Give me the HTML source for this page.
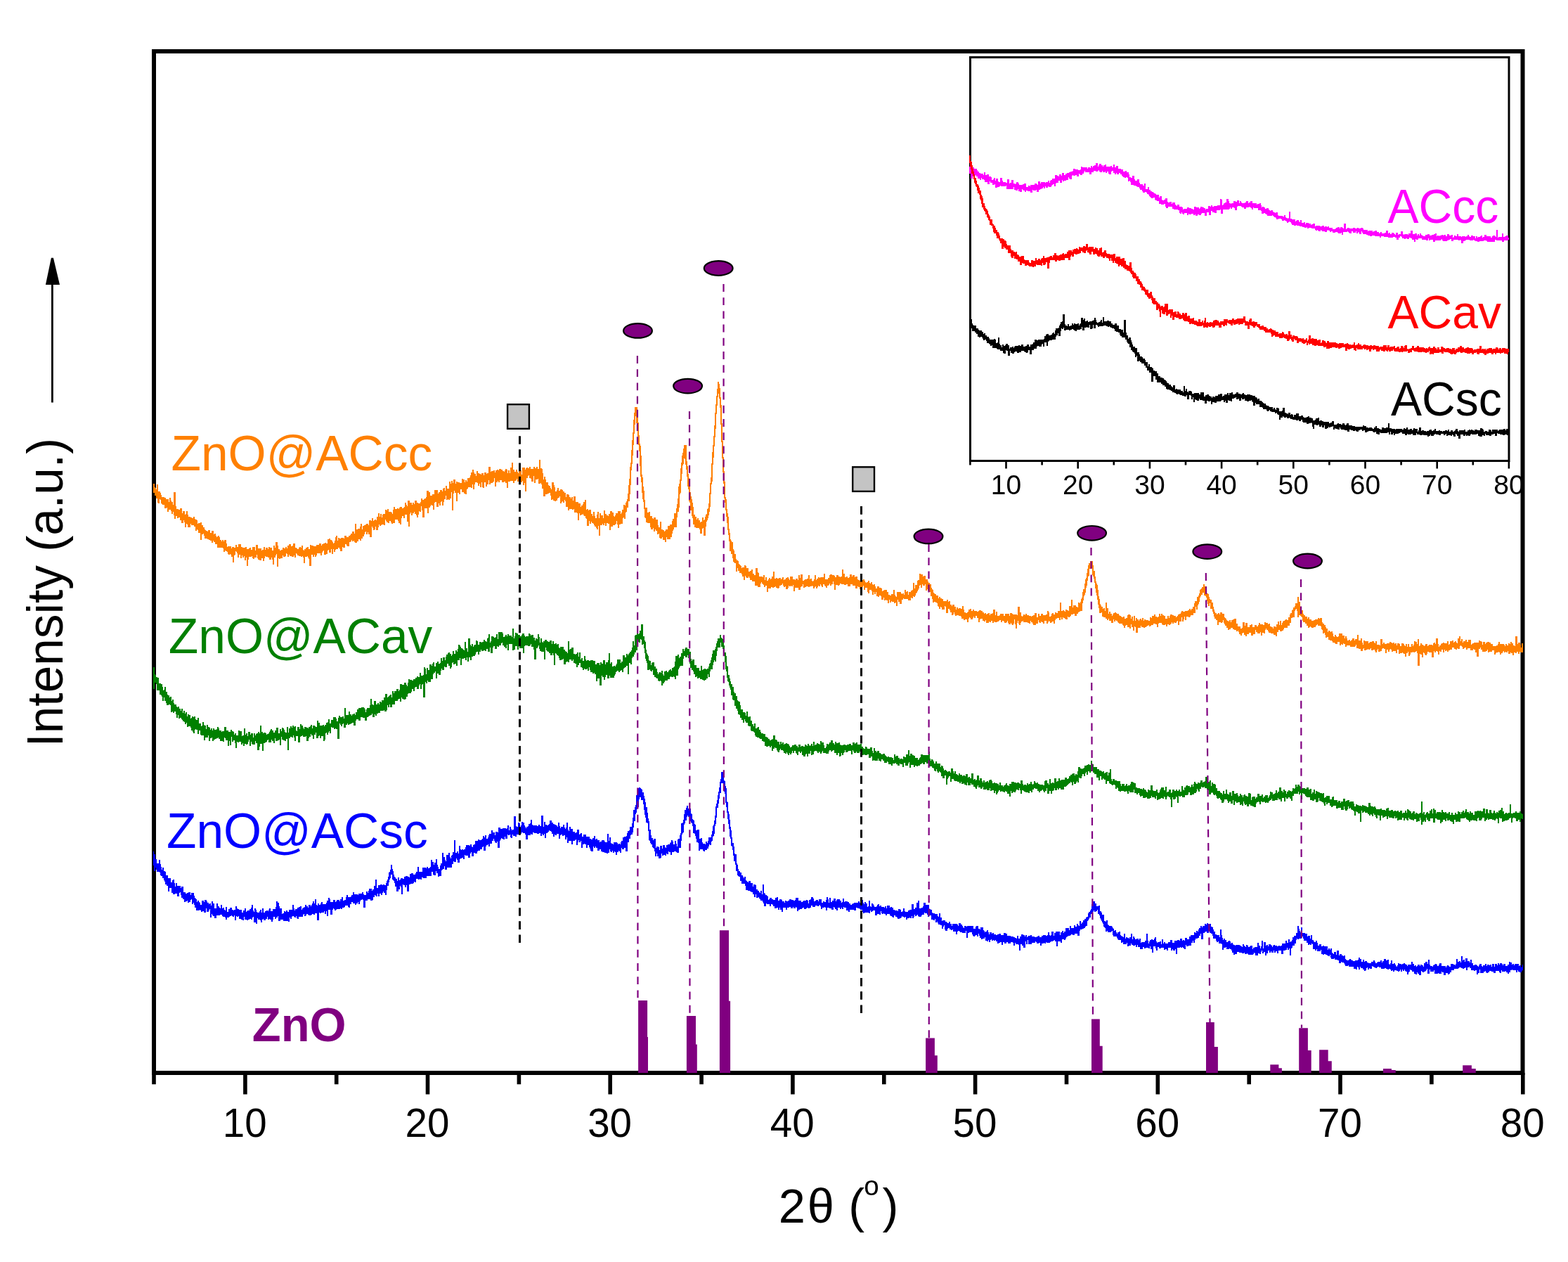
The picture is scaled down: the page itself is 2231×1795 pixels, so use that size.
<!DOCTYPE html><html><head><meta charset="utf-8"><title>XRD ZnO@AC</title><style>html,body{margin:0;padding:0;background:#fff;width:2231px;height:1795px;overflow:hidden}svg{display:block}text{font-family:'Liberation Sans', Arial, sans-serif}</style></head><body>
<svg width="2231" height="1795" viewBox="0 0 2231 1795">
<rect width="2231" height="1795" fill="#fff"/>
<rect x="219" y="73" width="1947.5" height="1453" fill="none" stroke="#000" stroke-width="6"/>
<path d="M219.0 1526V1542.3M348.9 1526V1556.5M478.7 1526V1542.3M608.5 1526V1556.5M738.4 1526V1542.3M868.2 1526V1556.5M998.1 1526V1542.3M1127.9 1526V1556.5M1257.8 1526V1542.3M1387.6 1526V1556.5M1517.5 1526V1542.3M1647.3 1526V1556.5M1777.2 1526V1542.3M1907.0 1526V1556.5M2036.9 1526V1542.3M2166.8 1526V1556.5" stroke="#000" stroke-width="5.6" fill="none"/>
<path d="M218 688h2v5h1v1h1v2h1v-7h2v10h3v2h1v3h1v3h4v1h2v2h4v4h1v-6h2v4h1v2h2v4h1v-18h3v20h1v4h3v1h2v-2h3v7h1v-3h3v5h1v-1h1v-4h2v5h1v3h3v1h2v1h2v-2h2v3h1v1h2v1h1v5h1v-1h3v-1h2v4h2v3h2v3h1v1h1v1h2v1h1v-2h3v4h2v-3h3v5h1v-1h2v3h1v2h1v-1h1v-1h2v2h1v4h2v2h1v-2h2v2h1v-2h3v5h1v5h1v-1h5v3h1v-2h3v1h2v-4h2v3h2v-4h4v4h2v1h4v-1h2v3h3v-1h1v-1h2v3h2v-4h4v5h1v-8h3v5h5v3h1v-1h2v-4h2v4h1v-3h3v2h1v-3h2v1h3v4h2v-7h2v3h1v-8h3v5h1v5h2v2h2v-1h2v-3h2v1h2v-2h2v2h1v-4h2v-2h3v3h2v-1h1v-3h3v6h2v1h1v1h2v-2h1v-1h2v1h1v-3h2v6h1v1h1v-2h2v-2h2v-1h2v3h2v-6h2v1h3v1h4v-2h4v-2h3v3h1v-2h2v-1h2v-1h2v1h2v-6h2v-1h2v2h2v1h1v2h1v2h1v-1h1v-3h1v-5h1v-2h2v7h1v-4h2v1h2v-1h4v1h1v-4h3v2h3v-2h2v-1h1v-2h2v-3h3v3h1v-14h2v8h2v-1h3v-3h1v-4h2v8h1v-5h2v-1h2v-1h1v-1h3v2h1v-7h3v1h1v-4h2v4h1v-1h1v-1h2v1h1v-5h2v-5h2v5h1v-4h2v5h1v-4h1v-1h3v-6h2v1h1v-2h2v4h4v1h1v2h1v-6h1v-4h2v3h3v-1h2v1h1v-2h1v-1h3v2h2v-1h1v-1h1v-6h2v3h1v2h1v-8h3v3h3v3h1v-3h2v2h1v-5h3v3h2v1h3v-2h1v-5h2v2h2v-1h1v-1h2v-2h1v-9h3v2h2v5h3v-2h3v-6h5v5h1v-2h2v-3h3v2h1v-4h1v-1h2v4h1v-7h2v4h3v-10h2v3h1v-4h2v3h1v-5h3v6h1v-3h2v1h3v1h3v-6h2v1h2v4h1v-3h2v2h1v-5h3v-1h1v-3h1v-4h2v-4h2v4h1v2h2v3h1v-7h2v3h2v1h2v1h1v-2h3v3h1v-4h3v2h1v-1h2v-9h3v7h1v-1h3v-1h2v3h1v-3h2v-1h2v1h1v-2h3v1h2v2h2v1h1v-2h1v-2h2v1h1v5h1v-4h2v4h1v-8h2v-7h2v10h2v3h2v-3h2v3h1v2h1v-5h2v1h2v6h1v-10h4v3h1v-2h1v-1h2v1h2v-2h2v3h4v-3h2v2h2v-2h2v3h2v-13h2v12h2v1h1v6h1v9h1v-4h2v4h1v4h3v4h1v1h2v3h1v2h1v-10h3v4h1v3h1v6h2v-2h1v-3h2v4h2v-2h3v1h1v2h2v2h2v6h1v-4h3v1h1v3h2v2h1v-2h2v5h1v-6h3v8h4v2h3v5h1v-2h2v-2h1v-3h2v-3h2v14h1v-1h2v2h1v-1h3v6h2v3h1v-6h2v6h1v3h2v-5h1v-4h2v9h1v-7h2v3h3v4h1v-11h2v5h2v2h2v1h1v-3h2v-4h3v2h2v5h1v1h1v-2h1v-3h3v-3h4v4h1v-2h1v-4h2v-7h2v1h1v-4h1v-2h1v-3h1v-8h1v-12h1v-9h1v-17h1v-6h1v-18h1v-14h1v-11h1v-18h1v-10h1v-8h4v12h1v10h1v18h1v12h1v3h1v14h1v27h1v4h1v13h1v6h1v13h1v11h3v7h2v-1h2v6h3v3h1v1h1v-2h3v3h3v8h1v3h2v-8h2v11h2v1h2v2h1v-1h1v-2h3v-5h3v-2h3v-5h1v-3h2v-8h3v-7h1v-6h1v-8h1v-17h1v-4h1v-6h1v-16h1v-8h1v-10h1v-4h1v-6h1v-5h4v23h1v7h1v11h1v6h1v10h1v10h1v6h1v4h1v5h1v6h1v11h2v3h2v4h1v-2h2v3h2v3h1v-1h2v-6h2v4h1v-1h1v-4h1v-3h1v-1h1v-7h1v-1h1v-7h1v-15h1v-14h1v-8h1v-20h1v-16h1v-10h1v-13h1v-15h1v-18h1v-12h1v-12h1v-10h1v-10h2v3h1v6h1v13h1v11h1v26h1v25h1v23h1v20h1v15h1v22h1v3h1v14h1v6h1v5h1v17h1v6h1v9h1v2h1v2h2v10h1v2h1v5h2v7h1v2h2v1h1v4h1v1h1v1h1v1h1v3h1v-1h3v-3h2v1h1v3h3v5h2v-1h2v-2h2v6h2v2h2v-10h3v6h1v1h1v5h5v1h1v-3h2v7h1v-4h2v5h2v-2h1v-2h2v2h1v-1h1v-3h2v-7h2v10h2v-1h2v1h2v-1h3v2h1v-1h1v-2h2v4h1v-1h2v-2h2v-1h2v2h1v2h1v-5h4v4h3v1h1v-2h3v2h1v-7h2v4h1v-5h3v9h2v-1h1v-1h3v-1h2v-5h2v6h1v-1h2v3h1v1h1v-1h1v-2h1v-6h2v7h1v-2h2v-2h2v1h1v-1h5v-5h2v8h4v-2h2v-4h1v-1h3v1h3v1h1v2h2v-3h3v2h2v1h1v-1h2v-10h2v6h2v5h2v-1h2v2h2v-1h1v-4h3v3h1v-2h3v3h1v-1h3v4h1v1h2v1h1v-2h3v1h1v-1h2v2h1v2h1v1h1v-1h2v-2h2v3h1v1h1v-2h2v3h1v1h1v-1h2v3h1v3h2v-3h3v2h3v1h1v4h1v-1h2v-1h4v3h2v4h2v1h2v-2h3v-6h2v7h1v2h1v1h1v-7h6v2h1v1h1v-1h2v2h1v-7h2v3h1v-1h2v5h1v-4h3v-2h2v-1h1v-10h2v8h1v-5h3v-6h1v-1h2v-9h2v1h3v3h1v-1h3v5h3v3h1v2h2v2h2v5h1v2h1v1h1v4h1v1h1v1h2v2h3v4h1v-2h2v2h2v1h2v3h5v-2h2v3h1v-1h2v5h2v2h1v-2h3v3h2v4h1v-3h2v2h1v-1h3v1h2v-4h2v5h1v4h2v1h2v-1h1v-1h1v-3h2v-1h2v3h2v-2h2v2h4v1h2v-1h1v-1h3v1h2v2h2v2h1v-1h2v2h1v-1h2v-1h2v3h1v-2h3v-1h1v-5h3v8h1v-5h2v6h3v-1h1v-2h5v3h2v-3h6v3h1v-4h3v1h1v1h6v1h1v-12h3v8h2v5h1v1h1v-1h1v-2h2v1h1v-2h2v2h3v1h3v1h1v-1h2v-1h2v-3h3v6h2v-5h2v3h2v-3h3v2h4v-1h2v-5h2v2h1v6h2v-1h1v-3h1v-1h2v2h2v-3h2v1h2v-3h3v-12h2v12h2v-1h2v1h1v1h1v-3h2v1h2v1h1v-7h3v-9h2v11h1v-3h4v2h2v1h1v-7h2v1h1v-2h1v-4h1v-2h1v-8h1v-4h2v-8h1v-6h1v-2h1v-7h1v-6h1v-5h1v-3h2v-3h4v6h1v8h2v8h1v7h1v3h1v2h1v7h1v9h1v4h1v7h1v2h1v2h2v3h1v-1h2v4h1v-12h2v8h2v8h1v-3h2v3h2v3h1v-2h1v-2h2v-1h2v1h1v1h3v2h1v1h2v1h1v1h2v-1h2v3h2v-1h2v-4h1v-1h3v1h1v5h1v-3h2v6h1v-7h2v7h1v-4h2v2h2v2h1v-2h1v-1h2v2h1v-3h2v4h1v-2h2v1h4v1h2v-5h2v1h1v-3h3v-2h2v3h2v1h2v-1h1v-4h2v3h1v-3h2v2h2v1h2v4h3v-4h2v3h1v-3h1v-2h3v1h2v1h3v2h1v-1h1v-1h1v-2h2v-1h2v-2h1v-2h2v1h3v-1h4v-1h2v-2h2v2h1v-2h2v-3h2v-5h1v-3h3v-6h2v-2h1v-3h1v-5h1v-1h1v-1h1v-2h2v-4h2v3h3v10h2v1h1v4h1v3h1v1h2v4h2v6h1v4h1v3h1v2h2v2h1v-1h1v-1h2v2h1v-3h3v2h3v5h1v1h1v1h1v2h1v1h2v1h1v-2h2v3h1v-3h2v-1h2v-1h3v7h2v4h4v3h2v-1h1v-8h3v5h1v-4h3v6h3v-3h2v-1h2v4h3v-3h3v2h2v-2h1v-3h2v2h4v1h2v-4h2v1h3v2h1v-1h2v4h2v1h2v2h1v-3h3v1h1v-4h2v-4h2v5h1v-6h2v6h1v-3h1v-2h1v-1h2v-1h1v-1h2v1h2v-4h2v-4h1v-2h2v-4h1v-1h1v-3h2v-2h1v-4h3v-9h2v7h2v9h1v5h1v-2h2v5h1v2h2v2h3v3h1v-2h2v3h3v2h3v-1h2v-1h4v-2h2v1h1v-1h3v6h1v2h2v2h2v3h1v2h2v5h1v-2h2v1h1v1h1v-1h2v3h1v4h1v1h1v-3h2v2h1v1h2v-1h1v-4h5v3h3v4h1v-3h2v3h1v3h2v-1h2v2h1v-1h1v-1h1v-2h3v3h1v-2h3v-6h2v8h3v-3h2v6h1v3h1v-6h2v1h5v3h1v-1h1v-1h3v-1h3v2h1v1h1v-3h2v5h4v1h1v-9h3v7h1v-2h2v2h3v-1h4v-2h2v1h2v1h1v-1h2v2h1v-1h2v3h1v-3h3v1h1v3h2v-4h3v1h1v2h1v1h1v-3h2v4h1v-4h2v4h3v-4h2v3h1v-2h1v-5h2v1h2v3h1v-7h2v10h1v-1h1v-3h2v2h2v1h1v1h1v-1h1v-2h3v3h1v-1h1v-1h5v1h1v-3h1v-1h2v2h1v-8h3v8h1v4h1v-2h2v-2h1v-1h2v-1h2v1h4v-3h2v5h1v-1h1v-4h3v-1h2v3h1v-1h1v-1h2v2h1v1h1v-7h2v-3h2v7h1v-3h2v5h1v-2h3v-2h2v3h2v-3h4v7h1v-1h1v-1h2v-1h7v-3h2v1h2v1h1v4h1v-4h3v3h1v-2h2v-1h3v1h2v2h3v3h5v-1h2v-2h1v-3h2v3h6v1h1v2h1v-3h2v2h2v-3h2v1h1v-3h2v2h2v3h2v1h1v-14h3v11h1v-2h3v3h1v4h1v-6h2v13h-4v-1h-1v3h-2v-3h-2v2h-2v-1h-2v4h-2v-3h-2v-1h-1v2h-3v-4h-1v2h-2v-1h-1v1h-2v-2h-1v1h-1v2h-2v2h-2v-3h-1v-1h-1v1h-3v1h-1v2h-2v-6h-3v2h-4v1h-2v-4h-1v2h-2v1h-5v-3h-2v-3h-1v2h-2v11h-3v-6h-2v-4h-2v-1h-1v2h-4v-3h-4v2h-2v-3h-2v1h-1v1h-2v-3h-1v-1h-1v-1h-1v1h-1v4h-3v-1h-1v2h-2v-1h-2v-2h-3v3h-3v1h-2v2h-2v-2h-1v1h-2v-2h-1v4h-2v-4h-2v3h-2v-1h-1v5h-2v-4h-1v-1h-2v2h-2v-2h-1v9h-3v-7h-4v-1h-2v3h-1v2h-2v-1h-1v-2h-1v-1h-1v7h-2v-4h-2v-1h-1v17h-3v-18h-1v-3h-1v1h-2v1h-2v-1h-1v1h-3v3h-1v2h-2v-6h-1v2h-2v5h-2v-4h-2v-1h-1v-1h-1v1h-3v1h-2v-6h-2v5h-2v-3h-4v1h-2v-3h-1v-1h-1v1h-1v3h-2v-3h-2v5h-2v-6h-2v-1h-2v1h-1v3h-2v1h-3v-4h-1v2h-1v3h-2v-2h-1v-2h-2v1h-3v-3h-1v1h-1v1h-2v-1h-1v1h-2v1h-3v-3h-1v1h-1v3h-3v-3h-3v-1h-3v-5h-1v2h-1v1h-7v-2h-5v2h-2v-4h-2v-1h-1v2h-2v-1h-1v2h-2v-5h-3v3h-3v-1h-1v-1h-3v-2h-1v-1h-3v-1h-2v-4h-2v1h-2v-4h-1v-3h-1v1h-2v-5h-1v-1h-1v-4h-1v-1h-4v-2h-1v1h-1v1h-1v2h-3v1h-3v-1h-1v-1h-1v1h-1v1h-2v-3h-2v-3h-2v-2h-3v-2h-1v-5h-1v-1h-1v-1h-1v-1h-2v3h-2v-9h-1v-3h-1v1h-1v2h-1v9h-3v1h-2v7h-2v4h-3v3h-5v2h-1v2h-2v1h-3v-2h-2v3h-2v6h-2v-2h-3v-2h-4v-1h-3v-2h-1v-2h-2v-2h-1v2h-1v5h-2v-1h-2v4h-2v-5h-1v2h-4v-2h-2v-3h-1v6h-3v2h-3v-4h-3v2h-3v3h-2v-2h-2v-3h-2v1h-1v3h-2v-2h-2v-3h-1v-2h-1v1h-2v-2h-3v-1h-2v-2h-3v2h-2v1h-2v-3h-2v-3h-2v-2h-1v-2h-1v-4h-1v3h-1v1h-2v-1h-3v4h-2v-7h-2v-2h-2v-3h-1v-4h-1v-3h-1v-4h-3v-8h-1v4h-2v-3h-1v-4h-1v-5h-1v-2h-1v-1h-2v-4h-2v3h-2v2h-1v2h-1v6h-1v3h-1v2h-1v6h-2v-4h-1v9h-3v3h-4v2h-1v1h-2v-1h-3v5h-2v-5h-1v4h-1v3h-2v-6h-1v6h-3v5h-2v-6h-1v1h-1v2h-3v-1h-1v2h-2v-2h-1v2h-1v1h-1v1h-2v-1h-2v3h-2v-3h-1v1h-4v-1h-1v-2h-4v1h-1v5h-2v-4h-2v-1h-3v2h-3v1h-1v1h-2v-2h-1v1h-2v1h-1v1h-2v1h-2v-1h-3v-2h-1v3h-4v7h-3v-8h-1v-1h-1v6h-2v-5h-2v-4h-1v6h-2v-2h-3v-3h-2v1h-1v3h-2v-3h-1v-1h-1v-2h-5v-1h-1v-1h-1v-2h-2v-1h-1v2h-2v-3h-1v5h-3v-3h-3v-3h-1v2h-2v-2h-2v-2h-3v-1h-2v-6h-1v1h-3v-7h-1v-5h-1v-7h-1v-6h-1v-4h-1v-6h-1v-8h-1v-6h-1v-3h-1v-2h-1v-10h-1v-1h-1v2h-2v10h-1v1h-1v6h-1v7h-1v3h-1v7h-1v3h-1v2h-1v6h-1v4h-1v11h-3v1h-2v1h-1v2h-2v3h-3v-3h-2v1h-3v2h-1v1h-1v1h-2v-1h-1v4h-3v-1h-1v-1h-2v-1h-1v3h-2v-3h-1v4h-2v-3h-3v1h-2v2h-1v5h-2v-3h-2v1h-1v1h-2v-2h-1v-1h-1v2h-1v2h-2v-4h-3v4h-2v-2h-2v-1h-1v2h-2v-1h-1v-3h-1v5h-3v2h-4v-2h-1v-2h-2v-2h-1v4h-2v-1h-2v-1h-6v-2h-1v1h-2v2h-1v3h-2v-2h-1v-4h-1v3h-1v8h-2v-6h-1v-7h-1v6h-1v2h-2v-1h-1v-2h-1v2h-3v-2h-1v-3h-1v2h-1v1h-3v-2h-1v-1h-2v2h-2v-3h-2v1h-1v1h-2v1h-4v-1h-1v2h-2v-3h-2v2h-2v-1h-1v2h-4v-4h-1v2h-2v-1h-2v-3h-3v1h-1v4h-2v-6h-2v-3h-2v3h-2v-2h-1v2h-1v2h-3v-2h-1v-1h-1v2h-1v5h-2v-4h-3v1h-2v-2h-3v-3h-1v-1h-3v-1h-3v1h-2v-2h-1v-3h-1v3h-1v1h-2v-4h-2v-3h-1v-2h-2v6h-3v-9h-1v-1h-1v5h-4v-3h-1v-1h-1v3h-2v-3h-1v-1h-1v-4h-1v-1h-2v-1h-2v1h-2v-5h-1v-4h-2v-6h-2v-2h-2v-2h-1v2h-2v-9h-1v2h-3v-2h-1v5h-2v-4h-1v1h-1v4h-1v2h-1v2h-1v2h-1v1h-1v3h-1v2h-2v-1h-1v3h-2v-1h-1v4h-4v-2h-6v-1h-1v2h-2v6h-3v-3h-2v-3h-1v9h-2v-5h-1v1h-2v-2h-3v-1h-1v2h-2v-4h-1v5h-2v-4h-2v-1h-1v1h-2v-4h-1v3h-3v-5h-1v-1h-2v2h-2v-1h-2v-6h-1v3h-2v-3h-1v4h-2v-5h-1v-2h-3v5h-2v-2h-1v-6h-3v3h-2v-6h-1v2h-2v1h-1v2h-2v-3h-2v-1h-1v3h-3v-4h-4v-2h-3v3h-4v-3h-2v1h-3v-1h-4v-1h-2v2h-1v1h-2v-1h-3v7h-2v-8h-1v-4h-1v4h-2v2h-2v-3h-1v2h-1v1h-2v3h-2v-2h-1v-1h-1v-2h-2v4h-2v-2h-1v-2h-1v3h-2v-1h-1v2h-1v2h-2v-3h-1v1h-1v2h-2v-3h-1v-1h-1v1h-3v1h-2v-1h-3v1h-2v1h-2v-5h-1v3h-2v1h-1v4h-3v-3h-5v5h-2v-9h-1v2h-2v-1h-1v1h-2v-1h-1v3h-1v2h-3v-4h-1v1h-2v-2h-1v-3h-1v2h-2v1h-2v3h-1v1h-2v-1h-2v-2h-1v1h-2v1h-2v-1h-2v2h-4v5h-2v-9h-2v2h-2v-3h-1v-1h-1v-1h-1v-2h-1v2h-1v5h-4v-2h-4v-6h-4v-2h-3v-3h-1v-2h-1v2h-3v-1h-1v-2h-1v6h-2v-5h-2v-3h-1v-2h-3v-3h-2v-4h-1v5h-2v-12h-2v-1h-1v-1h-1v-5h-1v-6h-2v-4h-2v-14h-1v-9h-1v-7h-1v-10h-1v-9h-1v-9h-1v-11h-1v-6h-1v-21h-1v-16h-1v-20h-1v-23h-1v-25h-1v-24h-1v-13h-1v-7h-1v5h-1v12h-1v12h-1v21h-1v12h-1v13h-1v16h-1v10h-1v24h-1v4h-1v14h-1v18h-1v7h-1v5h-1v4h-1v3h-1v2h-1v7h-1v13h-3v-11h-1v1h-1v7h-3v-6h-1v-2h-5v-1h-2v-4h-2v-9h-1v-3h-1v-8h-2v-11h-1v-2h-1v-17h-1v-4h-1v-14h-1v-10h-1v-7h-1v-8h-1v-1h-1v8h-1v2h-1v12h-1v10h-1v17h-1v2h-1v19h-1v6h-2v8h-1v14h-4v3h-1v2h-1v4h-1v5h-2v3h-5v-3h-1v7h-2v-3h-3v-4h-1v2h-3v-1h-1v-6h-1v1h-2v-5h-2v-2h-1v3h-2v-5h-1v2h-3v-3h-1v-6h-4v-1h-2v-6h-1v-1h-1v-12h-1v-10h-1v-4h-1v-9h-1v-15h-1v-8h-1v-15h-1v-21h-1v-9h-1v-12h-1v-13h-1v-6h-1v-10h-1v12h-1v13h-1v16h-1v15h-1v12h-1v9h-1v21h-1v13h-1v10h-2v9h-2v6h-1v1h-1v9h-2v-2h-1v1h-1v8h-3v1h-2v5h-2v-5h-1v-5h-1v4h-1v1h-1v1h-3v2h-3v5h-2v-9h-2v-1h-2v4h-2v-4h-1v3h-2v-2h-1v2h-3v15h-2v-14h-1v5h-2v-2h-1v-2h-2v-2h-1v-2h-1v-1h-2v-2h-1v3h-2v-4h-1v7h-3v-10h-1v-1h-1v-3h-2v-1h-1v-2h-1v1h-2v1h-2v-3h-1v10h-2v-10h-1v-1h-4v-5h-1v1h-2v-1h-4v2h-2v-5h-3v-8h-1v-2h-1v4h-2v-2h-1v1h-1v2h-2v-10h-1v2h-2v1h-1v3h-2v1h-2v-1h-2v-2h-1v1h-2v-6h-1v-4h-2v1h-2v1h-3v3h-3v-11h-2v-6h-1v-2h-1v1h-3v-7h-1v1h-3v5h-2v-10h-1v8h-3v-4h-1v-1h-2v-4h-1v1h-1v3h-2v19h-2v-12h-1v3h-2v-6h-1v2h-2v3h-2v-4h-3v-4h-1v2h-1v1h-2v3h-2v-3h-4v1h-3v9h-2v-7h-2v-2h-2v1h-3v-3h-3v3h-2v-2h-1v2h-2v6h-2v-12h-1v5h-1v1h-1v1h-3v2h-2v-6h-1v6h-2v3h-2v-6h-2v8h-2v-1h-1v-7h-1v7h-2v-5h-1v3h-2v-4h-1v-1h-3v3h-1v7h-2v-7h-1v5h-2v-1h-4v2h-1v1h-1v7h-2v-1h-2v-2h-3v-4h-2v7h-2v-2h-2v12h-2v-12h-2v-3h-1v4h-1v24h-2v-26h-1v9h-2v2h-2v-1h-1v1h-2v-6h-1v5h-2v4h-1v5h-2v-6h-1v1h-1v5h-2v-3h-1v5h-3v-7h-2v1h-1v10h-2v-6h-2v-1h-1v2h-1v2h-2v8h-2v-7h-4v13h-3v-10h-1v-6h-1v8h-2v-1h-1v5h-1v4h-2v-3h-1v-2h-2v-3h-1v2h-2v3h-2v-4h-1v2h-1v18h-2v-7h-2v-10h-3v5h-2v-3h-2v3h-1v9h-2v-2h-2v-3h-1v-2h-4v5h-3v1h-2v-2h-1v-2h-2v3h-2v-1h-2v-2h-1v-2h-1v8h-2v-1h-3v1h-1v1h-2v-2h-1v4h-1v4h-3v-5h-1v4h-1v1h-2v-3h-1v-2h-1v15h-3v-4h-2v-3h-1v3h-2v-4h-1v1h-1v3h-1v3h-2v3h-2v3h-2v-2h-2v3h-2v2h-3v-1h-1v-2h-1v1h-2v-2h-1v2h-1v1h-2v6h-3v-1h-1v-2h-2v5h-3v-1h-1v6h-3v-3h-1v-2h-2v2h-3v1h-1v3h-2v-4h-1v7h-2v-7h-1v5h-3v-4h-1v1h-1v5h-2v1h-3v-6h-1v1h-1v2h-1v4h-2v-3h-5v3h-1v2h-2v-3h-1v3h-2v-3h-2v16h-3v-10h-1v-2h-1v-2h-1v1h-3v9h-2v-8h-1v-2h-1v1h-2v-1h-3v-1h-2v-2h-1v-1h-1v6h-2v-3h-1v2h-3v-1h-3v-2h-1v3h-2v-4h-1v-1h-1v4h-1v1h-3v-2h-1v4h-3v1h-2v-1h-1v12h-2v-18h-1v2h-1v3h-2v10h-2v-7h-1v-3h-1v3h-3v-3h-2v-1h-3v-1h-1v3h-1v4h-2v-4h-2v3h-3v-1h-2v-2h-1v-5h-1v4h-3v2h-2v-1h-1v-3h-1v1h-4v4h-1v9h-2v-12h-1v4h-2v-6h-1v2h-2v-3h-1v4h-2v-5h-2v4h-2v-6h-1v-2h-1v-1h-1v5h-1v1h-1v10h-2v-8h-2v-3h-1v-1h-1v1h-2v-1h-1v-3h-1v-1h-2v-1h-1v2h-2v-5h-1v-1h-8v-5h-3v-3h-2v-2h-1v3h-2v-3h-2v-1h-2v-1h-2v-1h-4v-4h-1v-3h-1v1h-2v8h-2v-10h-3v-4h-1v-1h-1v2h-2v-6h-2v-2h-4v-2h-1v5h-4v-4h-1v-1h-1v5h-2v-7h-1v-3h-1v4h-3v-4h-2v-4h-2v1h-2v-3h-2v4h-2v-5h-1v-5h-1v3h-2v-4h-1v-2h-3v3h-2v-6h-1v1h-3v-5h-3v-1h-1v-1h-1v-5h-1v-1h-1v6h-2v-1h-1v-6h-2v-4h-2v-4h-2Z" fill="#ff8000" shape-rendering="crispEdges"/>
<path d="M218 949h2v10h1v1h1v3h2v1h2v8h3v1h2v4h1v5h1v-1h1v-4h2v7h2v4h1v1h2v3h1v-1h2v6h1v-2h2v5h1v2h3v3h1v1h1v-1h2v3h2v3h1v-3h2v6h1v-3h2v4h1v-2h2v6h1v-3h2v1h2v5h1v-1h1v-2h2v1h1v-1h2v4h1v1h2v-3h2v8h3v4h1v-1h1v-5h2v4h1v1h2v5h1v-6h2v3h2v1h1v3h1v-2h2v3h1v-3h2v2h3v-1h1v-3h2v2h1v3h3v2h1v-1h3v-6h3v5h3v2h3v-3h2v2h2v1h1v4h1v-2h2v3h3v-7h2v1h3v7h1v-1h2v-10h2v9h1v-2h2v4h1v-6h3v4h1v-2h3v6h1v-6h2v3h1v-2h1v-1h2v-2h2v2h1v-11h2v9h2v2h1v-1h3v1h1v2h1v-1h2v-1h1v-2h1v-2h1v-2h2v2h2v3h2v-3h2v-4h3v8h2v-6h2v3h1v-5h2v1h1v2h1v3h1v1h2v-8h2v8h1v-6h2v-3h2v2h1v-3h2v2h1v-1h2v6h1v1h1v-6h3v3h1v-7h2v2h2v3h1v2h1v-3h3v1h2v1h1v-2h2v-1h1v-2h2v5h1v-4h3v1h1v1h2v-9h2v3h2v4h4v-1h2v2h1v-2h2v-3h2v-1h1v-4h2v6h2v-5h3v-4h4v2h1v4h2v-5h1v-3h2v2h3v-1h2v3h1v-15h2v10h4v-5h2v4h2v2h1v-2h2v-1h2v2h1v-4h2v-4h2v-2h4v-1h4v1h1v2h1v4h1v-4h1v-2h4v-4h1v-9h2v8h2v1h1v-6h3v5h2v-2h2v2h1v-4h2v1h1v-3h3v-4h2v-5h3v5h1v-1h1v-1h1v-1h1v-1h2v4h1v-9h2v3h1v-3h3v-3h3v3h1v-2h1v-8h3v1h3v-3h3v3h1v2h1v-5h1v-5h2v1h3v1h2v-2h3v-2h2v-2h2v1h2v-6h2v4h3v-1h1v-11h2v2h1v8h1v-9h2v3h2v-8h3v2h1v-3h1v-2h2v6h2v-5h2v-2h2v3h2v-1h1v-7h2v4h1v-5h3v4h1v-5h1v-3h2v-2h1v-1h2v2h2v3h1v-2h1v-5h2v4h2v-5h2v2h1v-4h1v-6h2v1h1v2h1v2h2v1h1v1h1v1h1v-12h2v9h2v5h1v-19h3v9h1v2h1v-3h2v4h1v-2h1v-1h2v-6h2v1h1v5h2v-4h3v1h1v-1h2v-3h2v2h2v1h1v-5h1v-1h1v-5h2v12h1v-2h1v-7h3v1h1v1h2v-1h1v-4h2v7h1v-10h6v2h1v5h2v-1h1v-2h2v2h1v-3h2v2h4v2h1v-12h2v14h1v-3h1v-5h2v1h2v2h3v2h2v-2h1v-2h3v3h1v2h1v-1h4v-4h2v1h1v2h1v-1h3v4h2v4h1v-3h2v1h1v-7h2v4h1v8h1v-6h2v5h1v1h1v-2h2v-2h3v2h2v1h2v-2h3v5h1v-4h2v4h2v-1h2v2h1v-1h2v5h1v1h1v-2h5v4h2v2h1v1h2v2h1v-17h2v12h1v-1h2v-2h3v9h2v1h1v-1h2v-2h2v6h1v-6h2v10h1v-2h2v4h2v-7h2v5h1v2h1v-1h3v1h2v-1h4v1h3v5h2v-2h4v3h1v-4h2v2h2v-5h3v6h1v-3h3v-3h1v-10h2v15h1v-2h2v6h2v-1h2v1h1v-2h1v-2h1v-6h5v5h1v-2h2v-9h3v3h2v-5h2v2h1v-2h1v-1h1v-2h2v-2h1v-4h1v-9h2v6h1v-14h1v-1h2v-2h2v1h1v-1h1v-4h2v-9h3v17h2v6h1v2h1v11h1v5h1v2h1v2h1v6h1v1h2v6h1v-3h1v-1h3v6h2v3h2v5h1v3h1v-2h1v-1h2v1h1v-3h2v5h1v2h1v-6h2v-1h2v2h2v-2h1v-1h1v-1h2v2h1v-4h2v-1h1v-1h1v-7h1v-8h3v-2h2v5h1v-2h2v-5h2v-6h2v3h1v-3h1v-2h3v2h3v4h2v10h1v3h1v-2h3v8h3v4h4v4h2v-7h2v6h1v-1h2v-1h2v1h2v-1h2v-3h1v-4h1v-1h1v-4h1v-4h1v-5h1v-5h3v-2h1v-3h1v-5h1v-3h1v-4h3v-5h2v4h1v1h1v1h1v5h1v4h1v10h2v5h1v14h1v1h1v12h2v5h1v4h1v4h2v4h2v7h1v2h2v4h2v6h1v1h1v1h2v5h1v6h3v4h3v1h1v4h1v-6h2v7h1v1h1v-1h2v6h2v5h2v3h1v-4h2v7h2v-1h1v-1h2v4h2v3h1v2h3v1h3v4h2v1h2v2h2v2h2v-1h2v-1h1v-5h3v6h2v1h1v2h3v4h1v-4h2v3h1v-2h2v3h1v-1h2v-1h2v1h2v1h1v2h1v2h2v-1h1v-2h3v-1h3v2h2v2h1v-4h3v3h1v-1h3v1h2v-3h2v1h1v1h1v-3h2v2h1v1h1v-1h1v-2h2v3h1v-6h2v5h1v-1h2v-2h2v1h2v1h1v-5h2v2h3v4h1v4h2v-2h1v-4h2v1h1v-1h1v-2h2v-3h3v4h2v2h1v-4h2v2h3v-1h2v3h1v1h4v-1h3v1h2v-1h3v-1h3v2h2v-4h3v2h1v-1h1v-1h2v3h4v-1h2v4h2v2h1v1h2v-3h2v1h1v2h4v-2h3v5h1v3h1v-7h2v4h2v2h1v-2h3v3h2v1h1v1h2v-1h3v2h1v1h1v1h1v1h1v-1h2v1h4v1h2v3h1v-8h2v3h1v-1h3v3h2v2h1v-1h3v1h1v-4h2v1h2v-4h3v-6h2v8h1v-3h3v2h2v1h2v3h4v3h1v-1h1v-2h1v-1h1v-4h3v1h8v-5h2v10h1v3h1v-2h2v1h1v2h1v3h2v-3h2v3h5v5h1v-2h2v1h1v3h1v3h1v-1h2v1h1v1h1v1h1v-1h3v2h1v-6h3v4h1v3h1v-3h2v4h2v1h1v1h1v-3h2v2h3v2h1v-1h3v1h1v-3h3v5h1v-1h2v2h2v-7h3v9h1v-1h2v2h1v-1h1v-6h3v7h1v-3h3v4h1v2h1v-3h2v3h1v-1h2v-1h2v2h1v-3h1v-1h3v2h1v3h2v-1h2v1h3v1h2v2h1v-4h2v4h3v2h1v-2h2v-1h1v-2h2v3h2v1h1v-3h3v-3h4v1h3v1h1v-1h3v1h1v1h1v-5h3v5h1v2h1v-1h3v1h1v-3h2v2h1v-1h2v-3h2v3h1v1h1v-1h1v-4h2v2h1v1h1v-1h2v2h2v1h5v1h2v-6h1v-1h3v4h2v2h1v-8h2v6h2v-1h2v1h1v-7h3v5h1v-1h2v-4h2v3h2v-1h5v-3h3v2h2v-1h1v-3h2v-2h2v-1h1v-1h3v3h1v-2h2v1h1v-5h1v-6h3v2h2v1h1v-1h2v-1h1v-3h3v-1h2v-1h2v1h2v-6h2v5h2v4h5v3h3v2h3v1h1v1h1v-1h2v3h1v-1h2v-1h2v5h1v-4h2v-5h2v14h1v3h1v-3h3v2h3v1h5v4h1v3h1v-3h4v3h1v-1h1v-2h2v3h1v-1h3v-2h1v-3h3v1h2v1h2v6h2v1h4v1h3v1h1v-2h2v2h2v1h1v2h1v1h1v-4h2v1h2v-7h3v7h1v1h4v-2h2v4h1v1h1v-1h1v-3h1v-2h1v-2h4v4h2v-5h2v8h1v-1h2v-3h3v5h1v-1h1v-4h3v2h2v-2h2v2h2v-2h2v3h2v-8h2v5h1v1h1v-4h2v-2h1v-1h2v1h3v2h1v-1h1v-3h2v3h1v-4h1v-3h2v2h1v1h2v-2h2v1h1v-1h1v-3h3v3h1v-1h2v-1h1v-6h3v7h3v-2h2v8h1v-5h2v2h3v1h1v5h2v4h4v2h1v1h2v2h1v-5h2v4h2v-6h2v6h1v1h2v-3h3v5h1v-7h3v4h3v-1h2v3h1v2h1v-1h1v-3h2v2h2v3h1v-3h1v-1h2v2h2v1h2v-5h3v1h1v9h1v-4h1v-1h4v3h1v-2h2v-5h3v3h3v-2h2v5h1v-2h2v-2h4v4h1v-2h1v-2h1v-5h2v1h2v3h1v-1h2v-1h1v-4h2v4h1v-2h2v-6h3v5h2v2h1v-4h2v2h2v4h1v-3h2v-2h2v1h2v1h1v-1h1v-4h2v1h1v-1h1v-5h2v3h1v-3h3v2h1v1h2v2h5v1h2v-2h3v3h2v-1h2v7h1v-2h2v-4h2v6h1v-4h2v1h2v1h2v1h3v1h1v-1h2v7h1v-1h2v-2h5v5h3v-3h1v-1h2v5h5v3h1v-2h3v3h1v-2h3v-4h3v4h1v-1h2v-1h3v3h1v-1h5v3h1v4h2v-3h2v1h2v1h4v1h1v-2h2v1h3v1h2v1h2v-6h3v4h1v1h3v1h1v-1h2v2h1v2h6v-1h2v2h5v1h1v-3h2v-1h2v4h3v-1h3v2h2v-1h2v1h2v-1h2v2h2v-2h3v4h1v-1h3v-3h2v3h1v-5h2v1h1v1h1v1h2v3h1v-1h1v-2h3v4h1v-2h2v1h2v1h1v-1h1v-1h2v-16h2v17h1v-2h2v4h1v-1h1v-2h1v-1h2v2h2v-4h2v-2h2v6h1v-7h2v2h2v5h1v-2h6v1h1v-4h2v3h2v1h1v-1h2v2h3v-2h2v4h2v-3h2v3h3v-3h2v2h2v-4h2v1h2v3h1v-3h2v-2h2v3h1v-2h1v-3h2v4h3v2h1v-3h2v2h3v3h2v-5h4v-1h2v1h1v-1h2v1h3v-4h3v7h1v-6h3v5h1v1h1v-5h3v4h1v1h1v-1h1v-3h2v3h1v1h1v-2h2v1h1v-3h2v-1h2v-3h2v5h2v4h1v-1h1v-1h2v1h2v-1h2v-12h2v13h3v-1h3v-2h2v2h4v-2h2v3h2v1h1v7h-2v-1h-1v5h-2v-3h-2v2h-3v-4h-2v-1h-2v1h-1v6h-2v-7h-1v1h-2v2h-2v1h-4v1h-2v1h-2v-5h-3v-1h-1v8h-2v-6h-1v-1h-1v1h-1v2h-2v-1h-3v-1h-4v1h-2v-2h-1v2h-2v2h-2v-5h-3v2h-1v2h-4v-4h-1v1h-1v4h-2v-1h-4v-1h-1v1h-3v2h-2v-2h-1v-1h-2v-1h-1v-2h-2v1h-6v5h-3v-1h-1v1h-3v-3h-2v6h-2v-3h-2v-1h-2v-2h-1v1h-3v-3h-1v4h-2v-2h-3v3h-2v2h-2v-5h-4v-1h-1v-1h-2v6h-3v-6h-4v4h-3v-2h-2v-3h-1v6h-2v-2h-1v2h-2v4h-2v-7h-1v-3h-1v5h-3v1h-2v-4h-3v2h-2v-1h-3v-1h-2v-2h-1v4h-2v-1h-1v-2h-2v3h-2v-4h-2v3h-5v1h-2v-4h-1v1h-2v-3h-1v3h-3v-1h-5v-2h-1v4h-2v-4h-2v1h-2v1h-2v-3h-2v7h-2v-7h-2v-1h-1v5h-2v-2h-1v-3h-2v-2h-1v4h-2v-2h-1v-1h-1v2h-2v-2h-2v-2h-4v-2h-1v1h-1v1h-2v-3h-1v16h-2v-12h-3v-2h-2v-1h-1v6h-2v-6h-1v-1h-1v-1h-2v-1h-1v-2h-1v1h-2v-3h-1v4h-1v2h-3v-2h-1v-4h-1v5h-4v-3h-4v1h-3v-4h-4v1h-1v1h-2v-2h-2v-4h-3v2h-2v-3h-1v5h-2v-3h-1v-2h-2v-1h-2v-1h-2v-4h-1v5h-1v1h-3v-4h-2v2h-3v-1h-3v-4h-5v-1h-1v-1h-1v-2h-1v-1h-2v-1h-1v9h-2v-9h-1v2h-2v-4h-1v3h-6v3h-2v7h-2v-3h-2v-2h-2v2h-3v-2h-1v6h-2v-5h-3v5h-2v-3h-3v-2h-1v3h-4v1h-4v-3h-1v2h-2v1h-1v1h-1v2h-2v-1h-1v1h-2v-1h-1v-1h-1v1h-2v-1h-2v4h-2v-3h-1v-1h-1v1h-2v2h-1v5h-3v-1h-2v-1h-3v-2h-2v3h-3v-3h-1v1h-2v-2h-1v-3h-1v6h-2v-2h-1v1h-2v-4h-3v1h-2v-2h-2v5h-2v-7h-1v5h-3v-3h-2v2h-2v-3h-1v-2h-4v3h-1v2h-3v-4h-1v-1h-1v-2h-2v1h-2v-1h-1v-3h-1v-2h-1v1h-2v-1h-1v-2h-1v-1h-1v1h-1v2h-3v-6h-2v-1h-1v-2h-3v-2h-1v1h-3v-1h-1v3h-2v4h-2v-2h-1v-2h-1v4h-1v2h-3v2h-3v1h-3v-4h-2v3h-1v1h-4v3h-4v-2h-2v1h-2v-1h-1v10h-2v-8h-1v-1h-1v3h-1v1h-3v-3h-1v14h-2v-11h-1v-3h-2v-1h-1v-1h-1v2h-1v3h-2v-3h-1v-1h-1v3h-2v-1h-2v1h-2v1h-2v1h-2v-6h-1v4h-2v-2h-4v-2h-1v3h-2v1h-4v-2h-2v1h-4v-3h-2v1h-2v-2h-1v-3h-2v2h-2v-2h-3v-5h-1v4h-6v-2h-1v4h-2v-3h-1v-1h-1v1h-3v-1h-4v1h-2v-1h-2v-4h-1v-1h-1v2h-2v-5h-1v-1h-2v1h-2v-1h-1v-1h-2v-1h-1v-3h-3v4h-2v-6h-2v-1h-1v-1h-1v2h-2v-5h-2v6h-2v-4h-3v-5h-3v-2h-2v-3h-2v1h-1v2h-2v-2h-2v5h-2v-4h-1v2h-1v4h-2v-3h-2v3h-1v3h-3v-1h-1v7h-2v-2h-1v2h-1v2h-3v-3h-1v5h-2v-4h-1v-1h-1v2h-2v1h-1v1h-1v1h-1v1h-1v1h-3v4h-5v-2h-2v2h-2v-2h-1v3h-3v-3h-1v3h-1v1h-2v4h-2v-4h-2v4h-3v-8h-1v4h-2v2h-2v-2h-1v-2h-1v1h-1v1h-2v2h-2v-2h-2v-3h-3v-1h-2v2h-2v4h-2v-2h-2v3h-2v-1h-4v-1h-2v-1h-1v-1h-2v5h-2v-5h-1v-3h-1v3h-2v-1h-2v2h-1v2h-2v-1h-1v1h-1v1h-2v-3h-1v8h-2v-4h-3v-3h-2v-1h-1v2h-2v-1h-2v-1h-1v1h-2v-2h-2v2h-1v2h-1v2h-2v-5h-1v3h-2v-4h-3v1h-2v-4h-1v3h-4v-2h-1v1h-4v-4h-1v2h-1v1h-2v-2h-3v-3h-1v2h-1v3h-2v-2h-1v-1h-2v-3h-3v-2h-1v3h-4v-4h-1v4h-2v-1h-2v-2h-1v1h-3v-3h-1v2h-2v-2h-3v-1h-4v-1h-1v-2h-3v4h-2v-8h-2v2h-1v2h-1v8h-2v-13h-2v4h-3v-3h-2v-5h-1v-1h-1v-1h-1v2h-2v-2h-1v-3h-1v3h-2v-1h-1v-3h-1v-1h-2v-2h-4v-5h-1v1h-3v-2h-2v3h-3v-2h-1v1h-1v1h-2v2h-3v1h-2v-1h-2v2h-2v-3h-4v4h-2v-8h-1v2h-1v3h-4v-4h-2v6h-2v-4h-3v-1h-1v3h-3v-2h-2v-2h-1v1h-4v3h-2v-2h-4v-3h-1v-1h-1v2h-4v-3h-2v-2h-2v3h-2v-1h-2v-3h-1v3h-5v-1h-1v1h-2v-6h-2v2h-3v-5h-2v1h-4v-1h-1v1h-2v2h-2v-8h-1v1h-1v2h-4v-2h-1v2h-3v-2h-1v-2h-1v6h-2v-5h-4v1h-1v1h-3v-3h-1v3h-1v1h-1v3h-2v-3h-1v4h-1v1h-2v-5h-2v3h-2v-3h-3v-4h-2v1h-1v1h-2v-2h-2v2h-1v3h-4v-1h-4v-3h-1v2h-1v2h-2v-2h-1v-1h-1v2h-2v-2h-1v-1h-3v1h-1v4h-2v1h-2v-6h-1v4h-3v4h-2v-4h-1v1h-1v3h-3v-2h-2v-5h-1v2h-2v-2h-2v5h-2v-2h-1v-1h-1v-3h-2v3h-2v-3h-1v3h-1v2h-2v-2h-1v3h-2v-2h-1v-2h-1v2h-2v-1h-2v-3h-1v-1h-3v-2h-1v2h-1v3h-2v-1h-1v-2h-1v-3h-2v-1h-1v2h-2v3h-2v-7h-1v2h-2v-2h-2v1h-3v-1h-2v-6h-2v-1h-2v-3h-3v-1h-1v-1h-3v-1h-2v-2h-1v-4h-1v-1h-1v-1h-3v-1h-1v-6h-3v-1h-1v-4h-3v-2h-1v-3h-1v5h-2v-4h-2v-3h-2v-4h-1v-1h-2v-5h-1v-3h-2v-4h-2v-8h-2v-1h-1v-6h-2v-8h-1v-3h-1v-3h-1v-5h-1v-1h-1v-5h-1v-9h-1v-3h-1v-10h-1v-9h-1v-1h-1v-9h-1v-3h-2v-6h-1v7h-4v5h-1v7h-1v8h-2v-2h-1v3h-1v4h-1v6h-3v3h-1v8h-2v-4h-1v6h-2v2h-2v1h-2v-1h-2v-1h-3v-2h-2v1h-2v-3h-1v1h-2v-4h-2v-4h-1v-2h-2v-3h-2v-6h-1v-3h-1v-5h-1v-4h-1v3h-3v-2h-2v4h-1v10h-4v1h-1v2h-1v2h-1v9h-3v5h-2v-3h-1v-1h-1v1h-3v-1h-1v1h-1v3h-3v2h-4v2h-1v2h-2v3h-2v-6h-1v-1h-1v1h-2v-1h-1v-3h-2v-1h-1v-1h-2v-3h-2v-7h-1v2h-2v-1h-1v-2h-1v1h-3v-10h-1v-3h-1v-3h-1v-8h-1v-7h-1v-6h-1v1h-2v-7h-1v-1h-1v5h-2v-1h-1v2h-1v10h-2v3h-2v3h-1v3h-2v2h-1v9h-2v-2h-2v16h-2v-12h-2v2h-2v1h-1v1h-1v5h-2v-3h-1v1h-2v2h-2v-2h-2v1h-1v1h-1v3h-1v2h-1v3h-6v-3h-1v4h-3v-5h-2v3h-1v4h-2v-4h-2v-2h-1v14h-3v-10h-3v4h-2v-10h-2v-2h-1v1h-2v-2h-3v-3h-1v-4h-1v5h-2v-3h-1v1h-3v-1h-1v2h-2v-3h-1v-1h-2v-6h-2v3h-2v3h-2v-5h-2v-1h-2v-5h-1v2h-2v-2h-3v4h-2v-1h-2v1h-1v3h-3v-8h-1v1h-2v1h-3v-3h-1v-3h-1v-1h-2v-2h-1v-1h-1v17h-2v-14h-1v-3h-1v3h-3v-3h-2v-2h-2v-1h-1v-1h-1v-4h-1v17h-2v-11h-4v-1h-2v-3h-1v-5h-1v2h-1v2h-2v16h-3v-14h-1v-4h-3v-4h-1v2h-1v1h-3v-1h-4v1h-1v10h-2v-7h-5v-4h-1v6h-2v-5h-3v5h-2v1h-2v-9h-5v9h-2v-8h-1v5h-2v-2h-2v-2h-2v-4h-1v1h-1v3h-3v2h-2v-1h-1v4h-3v-4h-2v2h-1v8h-3v-8h-1v6h-3v-4h-2v3h-2v-1h-2v1h-3v-2h-1v3h-2v4h-2v-4h-2v1h-1v3h-1v2h-3v1h-2v5h-2v-4h-2v6h-2v-6h-1v4h-2v-3h-2v1h-3v9h-2v-10h-1v3h-3v8h-2v-3h-2v1h-2v-3h-1v1h-1v6h-1v2h-2v-4h-2v-3h-2v5h-3v-1h-1v5h-3v-2h-1v3h-1v6h-3v-2h-2v7h-2v-10h-1v2h-2v2h-1v7h-3v4h-4v-2h-1v4h-2v-2h-1v22h-3v-19h-1v1h-1v6h-2v-7h-1v2h-1v5h-3v-3h-2v1h-1v5h-2v-3h-2v4h-1v2h-4v1h-1v4h-2v3h-1v1h-3v-1h-2v-2h-1v6h-2v-4h-2v1h-1v2h-4v5h-4v4h-3v-4h-1v4h-2v-3h-1v7h-1v2h-3v-2h-1v1h-5v3h-3v1h-2v3h-2v-2h-1v4h-3v-5h-1v2h-2v1h-2v1h-1v1h-2v5h-3v-4h-3v-1h-3v5h-3v-2h-3v2h-1v7h-3v-4h-2v1h-2v1h-2v1h-2v-2h-1v2h-2v4h-3v-6h-1v1h-1v3h-2v-2h-1v-2h-1v22h-3v-14h-2v-1h-1v1h-2v-2h-3v-1h-1v9h-2v-3h-1v2h-1v3h-2v-3h-1v1h-1v9h-1v2h-2v-7h-3v3h-2v-4h-1v1h-1v3h-3v-8h-1v3h-2v6h-2v-5h-2v-2h-1v4h-2v2h-1v4h-3v-7h-1v1h-4v-2h-1v1h-2v1h-1v8h-3v-9h-3v7h-2v-5h-1v-3h-1v3h-2v-1h-2v2h-2v17h-2v-16h-2v3h-2v-1h-2v-1h-2v-4h-1v12h-2v-8h-1v1h-2v1h-3v-4h-1v7h-2v-3h-2v-2h-1v4h-4v-4h-1v1h-1v2h-1v1h-2v1h-2v11h-2v-10h-3v4h-1v5h-3v-10h-2v-3h-1v5h-4v-1h-1v-3h-1v6h-2v-9h-1v3h-1v3h-1v1h-2v-1h-2v3h-2v-4h-1v2h-2v-4h-3v1h-2v-1h-1v9h-2v-7h-1v-4h-2v2h-2v-7h-1v12h-2v-6h-1v7h-2v-8h-3v-3h-1v-1h-1v6h-2v-1h-4v-3h-2v-2h-1v1h-2v1h-2v1h-2v2h-2v-5h-1v1h-2v4h-2v-8h-1v3h-4v4h-2v-7h-4v-1h-1v-6h-2v5h-2v-6h-2v-1h-1v1h-1v5h-2v-2h-1v-2h-2v-4h-1v-2h-3v1h-2v-6h-1v2h-2v-3h-1v-1h-2v-2h-1v-1h-1v-2h-2v1h-2v-5h-1v4h-2v-5h-1v-4h-2v2h-2v-2h-1v1h-2v-10h-1v-1h-2v1h-3v-3h-1v-3h-2v-5h-1v5h-2v-6h-1v-2h-1v-1h-2v-6h-4v-9h-1v-2h-2v9h-2Z" fill="#008000" shape-rendering="crispEdges"/>
<path d="M218 1211h1v4h2v7h2v6h3v-5h2v6h1v4h1v4h1v-3h2v5h2v1h1v5h3v4h4v6h2v-3h1v-1h2v5h1v5h1v-5h2v4h5v3h1v-2h3v8h3v2h2v-1h2v-1h3v4h1v-3h4v4h1v3h1v1h1v1h1v4h1v-2h2v2h1v1h1v3h2v-6h3v2h1v-3h3v2h1v2h2v2h1v-1h2v3h1v-6h2v3h2v7h3v-7h2v4h2v2h1v1h1v-5h2v5h1v-1h2v3h1v1h1v-5h2v7h2v-4h2v-2h3v3h2v1h1v-1h2v-5h2v3h1v1h2v1h4v4h2v-3h2v-3h2v5h1v-1h1v-1h3v-2h2v-2h1v-4h2v8h1v2h1v-5h2v2h1v3h1v1h3v-2h1v-2h2v4h1v-6h2v6h2v-2h2v-1h2v1h1v-2h1v-2h2v4h3v-3h4v-3h1v-8h2v2h2v5h1v3h3v8h1v-1h2v-3h2v1h1v-2h2v2h2v-3h5v-7h2v5h1v3h1v-2h3v-2h2v-1h2v-1h2v5h1v-2h1v-1h2v-1h1v-3h2v2h2v2h1v-4h3v2h1v-2h1v-2h1v-3h2v3h1v-6h2v8h1v1h1v-3h2v2h2v-2h1v-2h2v3h5v-2h1v-3h2v-4h2v2h1v4h4v-3h3v3h1v-1h1v-2h4v2h1v-3h2v-3h2v5h2v-1h2v-4h1v-3h2v3h4v-1h1v-2h2v-4h2v3h5v1h1v-2h5v-2h2v3h1v1h3v-5h2v2h1v-3h1v-3h4v3h1v-2h2v-5h2v-9h2v12h2v-4h3v-1h3v1h1v-1h2v1h2v-3h1v-3h1v-2h1v-4h1v-6h1v-1h1v-3h1v-7h2v6h1v3h1v5h1v3h1v1h1v2h2v3h1v-5h2v4h1v-1h1v-2h3v1h2v-3h2v-1h3v1h2v1h1v-5h2v-1h3v2h3v-2h1v-2h2v-7h2v7h5v-6h5v1h1v-2h2v2h2v-1h1v-1h1v-10h2v3h2v4h1v-3h2v-5h2v8h1v3h1v3h2v-5h1v-3h2v-15h2v6h2v4h1v2h1v-9h3v-3h2v6h1v2h1v-4h1v-1h1v-4h2v-17h2v18h2v-2h2v3h1v-11h2v5h1v1h1v-1h2v1h1v-1h2v-3h1v-3h5v1h1v-2h2v3h1v1h1v-3h1v-1h2v-5h4v-2h2v1h3v-1h1v-1h1v-4h2v2h1v-3h2v5h2v-2h1v-3h1v-2h3v-5h2v3h3v4h1v-5h3v1h1v-7h3v2h3v-1h5v1h1v-1h1v-4h2v7h1v-5h2v3h1v2h1v-1h2v-19h3v14h1v1h2v-6h2v1h1v6h1v-3h1v-5h2v1h2v4h1v2h1v2h1v-2h2v-1h1v-3h2v-1h1v-5h2v7h1v1h6v1h2v-2h2v2h2v-15h3v16h1v-7h2v4h2v1h2v-1h1v-1h1v-5h3v3h2v2h2v1h2v1h2v2h1v-6h2v5h1v3h1v-2h3v-3h2v4h1v2h1v-2h1v-7h2v10h1v2h1v-6h2v3h3v4h3v2h1v-1h2v-4h3v7h1v-1h1v-1h2v5h2v-3h4v3h5v3h2v1h2v-2h2v-3h2v5h1v-1h2v2h3v3h1v-1h2v-2h4v2h1v1h3v-12h2v10h1v-5h2v8h1v1h2v1h1v-3h5v1h1v2h1v-1h2v1h1v-3h1v-2h2v-5h2v-1h3v-1h1v-4h1v-3h2v-1h1v-5h3v-5h1v-8h1v-11h2v-4h1v-3h1v-14h1v-1h2v-9h1v-1h2v1h1v1h1v1h1v4h2v5h1v4h1v5h1v7h2v8h1v8h1v4h1v12h2v8h1v4h2v3h1v-2h3v13h1v-2h3v1h1v4h1v-6h3v4h1v-5h3v3h1v1h1v-4h2v-1h3v-2h1v-1h1v-3h2v2h1v4h2v-5h2v4h1v4h1v-10h1v-1h2v-5h1v-3h1v-14h2v-1h1v-4h1v-8h1v-6h2v-3h1v-3h2v4h4v7h1v1h1v7h1v1h1v1h1v5h1v1h1v8h2v-1h3v13h2v-1h2v6h1v2h3v1h1v-4h2v2h1v-3h1v-5h4v-4h1v-5h1v-7h1v-2h1v-6h1v-7h1v-13h1v-4h1v-5h1v-7h1v-5h1v-6h1v-8h1v-4h1v-10h3v8h1v4h1v1h1v7h1v3h1v19h1v1h1v13h1v4h1v8h1v10h1v5h1v10h1v8h2v5h1v10h1v1h2v13h1v2h1v6h1v3h2v2h2v4h2v2h1v2h1v-2h2v5h1v1h1v1h1v1h1v-2h3v3h3v5h1v-3h3v1h1v6h2v2h2v2h1v1h1v-3h2v5h1v-14h2v12h1v1h1v2h2v1h1v1h1v5h1v-1h1v-2h3v2h2v1h3v-3h2v-1h2v5h2v-2h3v1h1v2h3v2h1v-3h2v1h2v-1h2v-2h3v1h3v1h2v-1h1v-3h4v4h4v2h2v-1h1v-1h4v-1h2v1h1v4h1v-5h2v-1h1v-3h3v2h1v4h2v-1h1v-1h3v2h1v-3h4v5h2v-2h2v1h2v-3h1v-4h2v3h1v5h1v-7h2v6h2v-2h2v-3h3v4h1v-2h1v-1h4v2h2v3h1v-1h1v-5h2v5h1v-1h4v1h2v2h2v2h2v-1h1v-1h2v-1h6v-2h2v2h2v2h1v-6h2v4h1v2h1v-3h2v2h2v5h1v-1h1v-8h2v8h1v1h1v-5h2v1h1v2h1v2h3v-1h1v-2h1v-1h2v3h1v-1h2v2h4v1h1v-2h2v3h1v-4h4v3h1v-1h2v1h2v3h2v1h4v1h1v-3h3v1h1v3h2v-1h1v-4h2v4h1v1h4v-2h2v-1h3v-8h3v7h2v-2h2v-7h2v-3h2v11h3v-1h2v-2h1v-5h3v3h5v6h2v1h2v4h1v1h3v1h4v3h1v1h1v-5h2v6h2v5h1v-1h4v2h2v1h1v1h2v-2h2v3h2v3h1v-3h7v1h1v2h1v-4h3v2h2v2h1v2h1v1h1v-3h3v1h1v-1h9v4h3v-3h1v-1h3v4h2v1h1v-3h4v4h1v1h1v2h1v-1h2v-2h2v3h1v3h1v-3h3v2h1v-1h2v2h3v1h2v-1h2v-1h3v2h4v-3h3v1h2v3h5v1h4v1h2v1h2v1h1v-4h2v4h2v-3h2v-3h3v1h2v2h1v-2h2v3h1v-1h1v-1h3v-1h2v2h4v1h3v-1h2v-1h2v2h3v-2h2v-1h4v1h2v-1h1v-4h2v4h1v1h1v-1h1v-5h3v6h1v-4h2v-2h6v5h1v-4h2v-2h2v3h1v-2h2v-5h5v3h1v-6h2v3h4v-4h2v2h2v-4h2v2h1v1h1v-7h2v4h1v-2h2v-3h2v-2h2v-2h1v-1h2v-5h1v-2h2v-2h1v-2h1v-7h2v-4h3v3h2v4h3v-1h2v8h2v2h1v3h3v9h2v1h1v-2h2v6h1v1h1v1h4v1h1v2h1v1h1v3h1v-1h2v3h1v2h1v-2h2v-1h2v5h1v1h1v1h2v1h1v-5h2v7h1v-2h2v1h2v1h1v-2h2v-5h2v8h1v-4h2v2h1v2h2v-1h3v2h1v-2h2v6h1v-1h5v-2h2v-10h2v10h1v4h1v-3h1v-2h2v-1h2v1h2v-2h1v-2h2v6h1v2h1v-1h3v-1h2v4h1v-7h2v6h1v-2h2v2h4v-2h3v-3h3v4h3v-3h4v-1h3v1h1v-3h3v3h1v-1h2v1h1v-4h3v2h3v-4h2v-2h5v-4h2v1h1v-3h2v1h1v-3h1v-2h2v-3h2v2h1v-2h3v-3h2v1h1v-2h2v1h1v3h1v-3h2v4h2v1h1v3h1v3h2v4h2v1h4v3h1v-11h2v8h1v4h1v3h1v-2h2v2h2v3h2v-1h1v-1h2v1h1v3h1v-1h2v2h1v1h2v1h1v-1h6v1h2v1h1v1h1v-4h2v2h1v1h1v1h1v-3h2v1h1v2h2v-1h1v-1h3v5h1v-2h2v-1h4v-6h2v4h2v4h1v-3h1v-8h2v11h1v-9h3v5h1v-1h2v2h1v-3h3v1h1v1h1v2h1v-2h1v-1h2v1h3v1h2v-1h2v1h1v-1h2v-3h5v-4h2v3h2v-5h2v4h1v-1h2v-2h1v-4h2v-2h3v-4h2v-10h2v4h1v3h1v2h1v-7h2v8h4v1h3v4h1v-1h3v4h1v-5h2v7h2v2h1v1h2v-2h2v3h1v4h2v-2h3v3h2v-1h2v1h5v5h1v-2h2v2h1v-2h2v6h1v1h1v1h1v-3h3v4h1v-6h3v7h1v-2h3v2h2v1h1v-1h2v5h1v1h1v1h3v-1h1v-1h2v1h1v1h2v1h3v-1h4v-1h1v-3h2v2h2v4h2v-3h2v3h1v-1h3v2h2v1h4v-2h3v-2h2v2h1v2h2v-1h1v-1h4v-2h2v3h1v-2h2v-3h3v2h2v-1h2v6h1v1h1v-2h1v-4h2v5h2v-1h2v2h1v2h1v1h1v-2h1v-3h2v1h3v1h1v-1h2v-1h2v1h1v1h2v2h1v-2h5v-4h2v3h2v3h1v-1h2v2h1v-1h1v-2h3v2h1v-2h2v1h2v2h1v-5h2v-2h3v3h1v-6h2v7h1v2h3v1h1v-2h1v-1h2v-1h2v1h1v2h2v-2h1v-2h3v4h6v2h1v-2h1v-1h2v1h1v1h2v-4h4v1h2v1h1v-2h1v-7h2v4h2v-1h2v2h1v-9h2v6h1v-1h2v3h1v-5h3v4h3v2h1v-4h2v5h2v3h2v-1h3v1h1v1h1v1h1v-2h1v-2h3v3h1v1h1v-2h3v-2h2v3h1v-2h3v1h1v-1h2v3h1v-4h3v4h1v-4h3v2h1v-3h2v2h1v-2h3v1h1v2h1v-2h3v3h3v-2h2v-4h2v1h2v3h1v-1h2v2h1v-2h6v3h1v-1h2v3h1v-1h1v-3h1v8h-1v1h-1v2h-3v-1h-2v-2h-1v3h-2v-3h-5v-1h-1v1h-2v3h-2v2h-2v-2h-2v-2h-1v1h-5v-2h-1v4h-2v-1h-1v-2h-5v3h-3v-2h-3v-1h-3v2h-2v1h-2v-1h-1v-2h-1v1h-2v2h-5v-5h-1v5h-2v2h-2v-6h-2v1h-2v-1h-4v-3h-2v-2h-1v1h-2v4h-2v-4h-1v1h-2v1h-2v-1h-2v-1h-3v1h-1v1h-6v2h-4v3h-2v2h-1v1h-2v-2h-3v3h-3v-4h-2v-1h-1v3h-4v-1h-1v1h-5v-5h-1v2h-5v-3h-1v6h-3v-7h-1v2h-1v1h-1v1h-2v1h-2v-1h-1v-1h-1v6h-3v-2h-2v-2h-1v3h-2v-1h-2v-3h-3v-2h-2v-1h-1v3h-1v1h-1v3h-2v-4h-2v-1h-1v-2h-1v2h-2v-2h-1v3h-2v-3h-1v2h-1v1h-2v-1h-2v-1h-3v2h-2v-2h-1v1h-2v-2h-1v-1h-2v1h-2v-1h-2v-1h-2v1h-5v-2h-3v-1h-2v1h-1v1h-2v-1h-2v-1h-2v-1h-1v4h-3v-1h-1v2h-2v-3h-1v1h-1v3h-1v1h-2v-2h-2v-2h-3v-2h-1v4h-2v-3h-1v-1h-1v4h-2v-1h-3v-3h-7v-2h-1v1h-4v-2h-1v-2h-1v-1h-3v-1h-1v2h-3v-4h-2v-1h-4v-2h-1v1h-4v-2h-1v-4h-1v2h-2v-1h-2v-1h-2v-1h-2v1h-2v-1h-2v-6h-1v2h-5v-3h-1v2h-2v-2h-3v-7h-1v-1h-1v2h-2v-1h-1v1h-2v-3h-2v-3h-4v-3h-1v-3h-2v3h-4v1h-2v-1h-1v2h-1v5h-2v3h-3v3h-1v1h-1v10h-2v-10h-1v2h-2v-3h-1v3h-2v1h-3v5h-3v-5h-4v4h-2v-3h-2v2h-2v-3h-1v3h-3v-2h-1v2h-2v-3h-2v4h-2v3h-2v-5h-2v2h-2v-4h-1v2h-1v3h-2v-1h-2v3h-4v-3h-1v-1h-1v2h-1v1h-7v-1h-1v-1h-1v1h-3v-2h-1v1h-3v-1h-4v-1h-3v3h-3v1h-2v-3h-2v-3h-1v-2h-2v-1h-1v1h-4v-3h-1v1h-3v3h-2v-8h-1v-1h-4v-3h-1v1h-2v-2h-1v-3h-4v-4h-1v-3h-2v-1h-2v-2h-1v2h-3v-2h-2v1h-1v1h-2v9h-3v-8h-1v3h-2v3h-2v1h-3v2h-1v4h-2v-3h-1v3h-2v4h-4v1h-3v-2h-1v6h-2v-1h-1v-1h-1v-1h-1v1h-2v-1h-1v1h-4v9h-2v-7h-1v2h-3v-2h-1v2h-2v-4h-4v4h-2v-2h-2v1h-2v-3h-4v1h-3v-2h-2v5h-2v-3h-1v-3h-3v9h-2v-5h-2v-4h-1v3h-2v-1h-4v1h-2v-2h-2v3h-4v-3h-3v-3h-1v3h-2v-3h-1v1h-3v-1h-2v-2h-1v3h-3v1h-2v-5h-1v2h-5v-3h-1v1h-2v-4h-4v-1h-1v-2h-1v-2h-5v-2h-1v-6h-1v1h-1v1h-5v-2h-1v1h-2v-5h-1v-1h-1v-1h-1v-4h-1v-2h-1v-2h-1v-2h-1v-2h-1v-4h-1v-2h-2v-6h-1v2h-2v1h-2v-2h-1v2h-1v2h-1v1h-2v5h-2v2h-1v2h-1v1h-1v7h-2v1h-1v2h-2v1h-2v1h-3v2h-1v7h-3v-3h-4v2h-3v-1h-2v1h-1v1h-3v1h-2v1h-1v2h-1v2h-2v-1h-3v5h-2v-2h-4v7h-2v-7h-2v-2h-1v1h-2v1h-3v1h-1v1h-5v-1h-1v2h-2v-1h-1v1h-3v3h-2v-4h-2v1h-3v-2h-1v-1h-1v2h-5v2h-5v-6h-1v6h-2v-4h-1v9h-3v-3h-2v-2h-2v9h-2v-8h-1v-1h-4v-2h-1v4h-2v-4h-1v-1h-3v2h-4v-2h-2v2h-3v-2h-2v4h-2v-4h-2v1h-2v1h-2v-3h-2v-2h-1v1h-2v-1h-1v1h-2v-2h-1v1h-1v3h-2v-3h-1v2h-2v-1h-2v-5h-1v2h-3v1h-2v-2h-2v-3h-1v-3h-1v4h-2v-2h-2v1h-1v1h-2v-1h-1v-2h-1v-3h-4v1h-2v7h-2v-10h-1v3h-5v-1h-3v-1h-1v-1h-2v1h-1v4h-2v-4h-4v-3h-1v1h-2v-1h-2v-2h-2v1h-1v3h-3v-2h-1v-6h-1v2h-1v3h-2v-5h-2v-1h-3v-2h-1v-2h-1v1h-2v-5h-1v2h-2v-1h-3v-6h-3v2h-2v-3h-1v-2h-3v-1h-1v3h-3v1h-1v2h-4v-1h-1v-2h-1v1h-1v1h-2v-2h-1v3h-1v2h-2v-3h-1v3h-2v-1h-1v1h-3v2h-2v-4h-1v1h-2v-1h-2v-1h-1v2h-1v1h-2v1h-3v-2h-1v-1h-2v-2h-2v3h-2v-1h-1v-1h-2v-1h-1v-2h-4v2h-2v-2h-2v-1h-1v1h-2v-1h-1v-3h-1v5h-2v-1h-3v2h-3v-7h-3v1h-1v1h-2v-2h-1v4h-2v-1h-6v1h-2v-2h-1v-3h-3v-1h-1v-1h-3v-1h-2v4h-3v-1h-6v3h-2v-2h-3v-4h-3v-1h-1v3h-2v-2h-1v2h-2v-2h-3v4h-2v-2h-2v-2h-1v-1h-1v4h-3v-2h-3v-1h-3v4h-2v-4h-1v-1h-1v1h-3v2h-2v-4h-1v-2h-1v1h-1v1h-2v-1h-3v2h-4v-2h-2v3h-2v1h-2v-1h-2v1h-1v1h-3v-2h-2v1h-1v1h-3v1h-2v2h-2v-5h-1v-1h-1v2h-3v-2h-1v2h-3v-2h-2v1h-3v3h-2v-3h-4v6h-2v-3h-2v-3h-1v3h-2v-3h-2v1h-3v-3h-2v-2h-1v-1h-2v3h-2v-3h-4v-1h-1v4h-3v-4h-1v-2h-1v-2h-3v-2h-1v-1h-1v-2h-1v1h-3v-5h-1v4h-2v-4h-2v-3h-2v-1h-2v-1h-3v-1h-3v-6h-1v-3h-5v-4h-2v-6h-2v-1h-1v-1h-1v-6h-2v-9h-1v-5h-2v-8h-1v-8h-1v-5h-1v-1h-1v-10h-1v-3h-1v-11h-1v-7h-1v-7h-1v-9h-1v-8h-1v-6h-1v-13h-1v-3h-1v-11h-1v-1h-3v14h-2v8h-1v7h-1v6h-2v14h-1v9h-1v3h-1v11h-1v3h-1v1h-1v6h-1v1h-1v5h-2v-1h-1v3h-1v3h-2v2h-3v2h-2v-1h-1v-2h-4v2h-2v-11h-1v-1h-2v-5h-1v-4h-1v-3h-1v-1h-2v-10h-1v-4h-1v-1h-1v-2h-1v-2h-1v-4h-2v-2h-1v2h-1v5h-2v4h-1v2h-1v11h-1v1h-1v2h-1v9h-1v10h-3v7h-3v-1h-1v-1h-3v1h-3v4h-2v-4h-2v-1h-1v4h-2v-1h-1v3h-2v-1h-2v1h-2v-3h-1v6h-1v1h-3v-3h-2v-4h-1v4h-2v-7h-1v-4h-1v-1h-1v-1h-1v-4h-2v-2h-1v-3h-1v-1h-1v-13h-1v-11h-1v-1h-2v-7h-1v-4h-1v-7h-1v-8h-1v-6h-3v-4h-2v3h-1v11h-2v3h-1v5h-1v2h-1v10h-2v9h-1v7h-1v3h-2v1h-1v5h-2v5h-2v13h-3v-5h-2v2h-3v-2h-1v7h-2v-2h-1v-1h-1v2h-2v4h-2v-4h-1v-1h-1v2h-2v-3h-1v2h-2v-1h-1v-3h-1v5h-2v1h-2v-1h-3v-1h-3v-1h-2v-3h-2v2h-3v-4h-2v-2h-1v2h-2v-2h-1v7h-3v-1h-1v-3h-1v-2h-1v-3h-2v4h-2v-5h-2v-1h-1v1h-2v5h-2v-10h-1v2h-2v-3h-1v3h-1v4h-2v-8h-1v1h-1v1h-3v5h-2v-5h-4v3h-2v-8h-1v3h-2v-6h-2v1h-2v-2h-2v1h-1v5h-2v-7h-3v2h-2v-1h-1v3h-2v-4h-2v-3h-1v-1h-2v-1h-1v2h-1v1h-1v1h-2v7h-2v-6h-1v2h-2v-2h-1v3h-2v-4h-2v1h-3v-1h-4v-1h-2v3h-2v-1h-1v2h-4v6h-3v-7h-1v-2h-3v-1h-2v2h-1v1h-6v3h-2v-1h-3v-2h-1v5h-2v-1h-1v-4h-1v1h-2v-1h-1v6h-3v-3h-1v4h-2v-1h-2v-1h-1v2h-1v2h-1v10h-3v-9h-1v2h-2v-1h-1v-2h-1v-3h-1v3h-2v4h-3v4h-2v-3h-1v1h-2v2h-1v6h-3v-6h-1v1h-1v3h-3v2h-3v1h-1v3h-3v-1h-2v5h-3v-6h-1v2h-1v6h-3v-3h-4v-1h-1v6h-2v-2h-2v1h-2v1h-1v5h-3v-4h-1v-2h-1v5h-3v-1h-1v4h-2v5h-7v3h-3v-5h-1v4h-2v1h-1v1h-1v8h-3v1h-2v-5h-2v-3h-1v6h-3v-1h-1v-4h-2v6h-7v3h-5v-1h-2v3h-2v-1h-1v1h-2v-1h-3v5h-2v-1h-1v2h-1v1h-4v1h-2v10h-3v-9h-1v3h-2v-3h-2v-1h-1v14h-2v-10h-1v-2h-1v5h-2v3h-3v-7h-2v-5h-1v-3h-1v-1h-1v-1h-1v-7h-2v5h-1v2h-1v4h-1v5h-2v6h-1v7h-2v-3h-2v-2h-1v2h-1v3h-2v-2h-2v4h-2v-4h-1v4h-2v-1h-1v-1h-1v3h-2v4h-1v1h-3v-2h-4v2h-3v10h-3v-11h-1v-1h-1v1h-2v2h-1v4h-2v-3h-1v2h-2v2h-2v-2h-3v-2h-2v3h-2v5h-2v-1h-1v-2h-4v2h-1v1h-3v2h-2v-1h-1v1h-5v1h-1v1h-2v-2h-1v-1h-1v2h-1v7h-3v-7h-3v9h-2v-7h-1v4h-2v-4h-1v2h-4v1h-2v-1h-1v11h-3v-10h-3v2h-2v-1h-2v1h-1v1h-4v-1h-1v-1h-2v2h-1v1h-2v-3h-1v1h-1v3h-6v3h-2v-1h-1v-3h-1v2h-2v-1h-1v-1h-2v1h-1v3h-2v-2h-1v6h-2v-1h-7v-2h-4v2h-3v-7h-1v2h-2v2h-2v-3h-2v4h-1v3h-2v-3h-2v-1h-1v1h-2v-4h-1v3h-2v2h-3v-2h-1v1h-1v4h-2v-3h-1v-1h-3v-2h-1v8h-2v-2h-3v-8h-1v1h-1v3h-2v-1h-2v1h-2v1h-2v-1h-3v-4h-1v5h-2v-1h-2v-1h-3v-4h-1v1h-2v-1h-1v6h-2v-7h-1v2h-2v-1h-1v-1h-1v1h-2v1h-1v1h-3v3h-2v-3h-1v-1h-3v-1h-1v-2h-3v1h-5v4h-3v-3h-2v-1h-1v-2h-1v5h-2v-12h-1v2h-1v2h-3v-5h-1v6h-3v-2h-2v1h-2v-2h-1v-1h-1v1h-5v-4h-2v-4h-1v-3h-1v2h-2v-7h-1v1h-1v3h-2v1h-2v-3h-1v1h-2v1h-2v-4h-2v-2h-2v-4h-1v-4h-1v1h-1v5h-3v-4h-3v1h-3v-2h-2v-7h-3v5h-2v-8h-2v-2h-2v-4h-1v-2h-1v-3h-2v-3h-2v-1h-1v-4h-1v-1h-4v-3h-1v-3h-1v5h-2v-8h-1Z" fill="#0000ff" shape-rendering="crispEdges"/>
<path d="M908.1 1526V1423.0H921.1V1475.0H922.0V1526Z" fill="#800080"/>
<path d="M976.9 1526V1445.0H990.0V1485.4H991.8V1526Z" fill="#800080"/>
<path d="M1023.9 1526V1323.2H1037.0V1423.8H1039.1V1526Z" fill="#800080"/>
<path d="M1317.1 1526V1476.5H1329.9V1501.2H1333.8V1526Z" fill="#800080"/>
<path d="M1553.0 1526V1449.5H1564.8V1487.7H1568.7V1526Z" fill="#800080"/>
<path d="M1716.0 1526V1453.9H1727.8V1489.0H1732.9V1526Z" fill="#800080"/>
<path d="M1807.3 1526V1514.2H1819.4V1519.3H1823.9V1526Z" fill="#800080"/>
<path d="M1848.2 1526V1462.3H1860.9V1494.0H1865.7V1526Z" fill="#800080"/>
<path d="M1877.1 1526V1493.3H1889.7V1509.2H1894.8V1526Z" fill="#800080"/>
<path d="M1968.0 1526V1520.1H1979.9V1522.0H1985.8V1526Z" fill="#800080"/>
<path d="M2081.2 1526V1515.2H2093.9V1520.1H2099.8V1526Z" fill="#800080"/>
<line x1="906.9" y1="506.0" x2="907.5" y2="1423.0" stroke="#800080" stroke-width="2.2" stroke-dasharray="10.9 8.3"/>
<line x1="981.0" y1="585.0" x2="981.5" y2="1445.0" stroke="#800080" stroke-width="2.2" stroke-dasharray="10.9 8.3"/>
<line x1="1029.5" y1="404.0" x2="1030.0" y2="1323.0" stroke="#800080" stroke-width="2.2" stroke-dasharray="10.9 8.3"/>
<line x1="1321.5" y1="774.0" x2="1321.8" y2="1476.0" stroke="#800080" stroke-width="2.2" stroke-dasharray="10.9 8.3"/>
<line x1="1552.5" y1="779.0" x2="1555.0" y2="1449.0" stroke="#800080" stroke-width="2.2" stroke-dasharray="10.9 8.3"/>
<line x1="1715.8" y1="815.0" x2="1721.5" y2="1454.0" stroke="#800080" stroke-width="2.2" stroke-dasharray="10.9 8.3"/>
<line x1="1851.0" y1="824.0" x2="1852.0" y2="1462.0" stroke="#800080" stroke-width="2.2" stroke-dasharray="10.9 8.3"/>
<line x1="739.5" y1="620.2" x2="739.5" y2="1341" stroke="#000" stroke-width="3" stroke-dasharray="11.6 7.57"/>
<line x1="1225.5" y1="720.1" x2="1225.5" y2="1441" stroke="#000" stroke-width="3" stroke-dasharray="11.6 7.57"/>
<ellipse cx="907.5" cy="470.4" rx="20.4" ry="10.3" fill="#800080" stroke="#000" stroke-width="2.2"/>
<ellipse cx="978.6" cy="549.1" rx="20.4" ry="10.3" fill="#800080" stroke="#000" stroke-width="2.2"/>
<ellipse cx="1022.2" cy="381.5" rx="20.4" ry="10.3" fill="#800080" stroke="#000" stroke-width="2.2"/>
<ellipse cx="1321.0" cy="762.9" rx="20.4" ry="10.3" fill="#800080" stroke="#000" stroke-width="2.2"/>
<ellipse cx="1553.6" cy="758.3" rx="20.4" ry="10.3" fill="#800080" stroke="#000" stroke-width="2.2"/>
<ellipse cx="1717.8" cy="784.6" rx="20.4" ry="10.3" fill="#800080" stroke="#000" stroke-width="2.2"/>
<ellipse cx="1860.5" cy="798.0" rx="20.4" ry="10.3" fill="#800080" stroke="#000" stroke-width="2.2"/>
<rect x="722.1" y="575.2" width="30.8" height="34.6" fill="#c4c4c4" stroke="#000" stroke-width="2.4"/>
<rect x="1213.2" y="664.3" width="30.8" height="34.6" fill="#c4c4c4" stroke="#000" stroke-width="2.4"/>
<text x="348.2" y="1617" font-size="56.5" text-anchor="middle" fill="#000">10</text>
<text x="607.9" y="1617" font-size="56.5" text-anchor="middle" fill="#000">20</text>
<text x="867.6" y="1617" font-size="56.5" text-anchor="middle" fill="#000">30</text>
<text x="1127.3" y="1617" font-size="56.5" text-anchor="middle" fill="#000">40</text>
<text x="1387.0" y="1617" font-size="56.5" text-anchor="middle" fill="#000">50</text>
<text x="1646.8" y="1617" font-size="56.5" text-anchor="middle" fill="#000">60</text>
<text x="1906.5" y="1617" font-size="56.5" text-anchor="middle" fill="#000">70</text>
<text x="2166.2" y="1617" font-size="56.5" text-anchor="middle" fill="#000">80</text>
<text y="1738.8" font-size="68.6" fill="#000"><tspan x="1107.7">2</tspan><tspan x="1148.8">θ </tspan><tspan x="1207.2">(</tspan><tspan x="1229.2" y="1700.3" font-size="38.5">o</tspan><tspan x="1255.4" y="1738.8">)</tspan></text>
<text transform="translate(88.5 1062.5) rotate(-90) scale(1 1.035)" font-size="69.4" fill="#000">Intensity (a.u.)</text>
<line x1="74.4" y1="572.5" x2="74.4" y2="400" stroke="#000" stroke-width="2.8"/>
<path d="M72.9 366.8L75.9 366.8L85 404.9L64.9 404.9Z" fill="#000"/>
<text transform="translate(243.5 668.6) scale(1 1.018)" font-size="69.5" fill="#ff8000">ZnO@ACcc</text>
<text transform="translate(239.8 929) scale(1 1.01)" font-size="69.5" fill="#008000">ZnO@ACav</text>
<text transform="translate(237 1205.9) scale(1 1.01)" font-size="69.5" fill="#0000ff">ZnO@ACsc</text>
<text transform="translate(358.8 1480.8) scale(1 1.016)" font-size="66.9" font-weight="bold" fill="#800080">ZnO</text>
<rect x="1380.5" y="81.5" width="766.5" height="574" fill="none" stroke="#000" stroke-width="3"/>
<path d="M1380.4 655.5V661.5M1431.5 655.5V666.5M1482.6 655.5V661.5M1533.7 655.5V666.5M1584.8 655.5V661.5M1635.9 655.5V666.5M1687.0 655.5V661.5M1738.1 655.5V666.5M1789.2 655.5V661.5M1840.3 655.5V666.5M1891.4 655.5V661.5M1942.5 655.5V666.5M1993.6 655.5V661.5M2044.7 655.5V666.5M2095.8 655.5V661.5M2146.9 655.5V666.5" stroke="#000" stroke-width="2.6" fill="none"/>
<path d="M1379 237h3v1h4v2h4v2h1v2h2v2h2v1h4v2h1v-4h2v4h2v-1h3v3h3v1h1v4h2v-1h1v-2h2v4h1v-3h3v4h1v1h2v-6h3v4h1v2h4v1h2v-5h3v6h1v-1h2v-4h3v5h2v1h1v-1h1v-2h3v2h1v2h5v-1h2v-1h3v5h3v-2h2v1h1v-2h6v-2h3v1h1v1h1v-5h3v3h1v-2h6v1h1v-1h3v-2h2v3h1v-3h1v-1h2v-2h4v-5h3v1h2v1h1v-3h3v2h1v-4h3v3h2v-2h2v-1h3v-1h2v-1h3v-1h1v-3h3v1h4v1h3v-1h1v-4h2v1h7v2h1v-2h3v1h1v-3h2v2h1v-2h2v-1h2v-3h3v5h1v-2h1v-2h3v2h2v2h1v-2h2v-1h2v3h6v-1h2v2h2v-4h2v4h2v-2h3v4h4v1h3v3h3v-1h2v2h3v3h1v4h2v1h2v-3h3v5h1v2h3v-2h3v5h1v2h4v2h2v-3h2v8h3v-3h2v4h2v2h2v1h2v1h1v1h2v1h1v1h4v4h1v-2h3v5h1v1h2v-1h2v-2h3v5h1v1h2v-1h3v3h1v-2h4v3h1v1h1v1h1v-2h3v3h4v1h1v3h1v-1h5v-2h3v1h3v1h2v1h2v-4h3v1h4v2h1v-1h1v-2h3v1h2v1h2v2h1v-1h3v-4h3v1h1v-2h2v2h2v-1h5v-1h4v-9h2v1h1v8h1v-1h1v-2h2v-1h2v-5h3v3h1v3h2v1h1v-1h3v-3h3v1h2v-2h3v4h1v-3h2v2h1v1h4v-1h2v-2h3v3h1v-1h2v-2h3v3h6v2h1v-1h3v-1h2v3h1v3h1v-1h2v1h2v2h2v-1h3v2h1v1h1v1h1v-1h3v2h1v1h2v1h1v-1h3v4h1v1h6v1h2v-2h2v3h1v1h2v1h1v-1h1v-9h2v10h2v1h5v3h1v-1h1v-1h3v2h1v1h1v-3h2v4h3v-1h2v3h1v-2h4v1h3v2h1v-1h2v-1h3v4h1v-1h6v1h3v-1h3v2h1v-1h3v1h1v-1h2v2h5v2h4v-1h1v-1h2v-1h3v2h1v-2h3v1h1v1h1v-7h3v8h1v-1h1v-1h3v1h5v-1h3v1h3v-1h2v1h3v-1h3v1h1v2h6v2h1v-1h6v2h1v-1h2v-1h3v2h3v2h1v-1h1v-1h2v2h4v-1h2v-3h3v4h1v-1h2v2h2v-2h3v1h1v1h1v1h1v-3h3v3h1v-1h3v-4h3v4h1v1h1v-1h5v1h1v-2h3v-4h3v5h3v-1h3v3h1v-2h2v2h1v-3h2v2h1v1h2v1h3v-2h3v-1h3v2h3v-1h3v-1h2v-1h2v4h1v-1h2v1h1v-1h3v-1h2v1h1v-1h3v2h2v-3h3v2h3v-1h2v4h1v-1h1v-2h2v1h2v-3h2v3h4v1h1v-1h5v1h1v-1h2v-2h2v2h1v1h2v-2h3v1h3v3h1v-3h2v2h1v-1h3v-1h1v-1h2v3h1v-1h2v-3h3v2h6v2h2v-2h1v-1h3v1h1v1h1v-10h2v11h1v-1h5v-5h2v5h2v-1h2v-1h3v3h1v3h-1v1h-6v2h-3v-2h-8v-1h-2v3h-11v-1h-1v-1h-4v1h-6v1h-3v-1h-3v-1h-2v-1h-1v1h-5v-1h-5v1h-2v1h-2v3h-3v-4h-1v-1h-1v1h-2v-1h-7v2h-3v-3h-2v1h-2v1h-2v1h-6v-1h-1v-2h-1v1h-1v1h-8v2h-3v-3h-4v1h-2v-3h-1v3h-3v-1h-6v-2h-5v2h-3v-1h-1v4h-2v-3h-3v-2h-2v-1h-2v2h-3v-1h-2v1h-2v-1h-3v-2h-1v-1h-2v2h-2v3h-3v-3h-2v-1h-3v1h-7v-1h-6v-1h-4v2h-2v-2h-7v-1h-4v1h-3v-1h-3v-1h-2v-1h-5v-2h-1v-2h-1v4h-3v-2h-1v-1h-1v2h-2v-3h-1v2h-4v-2h-2v3h-3v-1h-1v-1h-1v-1h-1v1h-6v4h-2v-3h-1v1h-4v-1h-1v-1h-3v1h-4v-2h-2v1h-2v-2h-2v-1h-1v1h-1v2h-3v-1h-4v-1h-1v-1h-1v2h-3v-1h-1v-1h-1v1h-2v-1h-1v-2h-5v-1h-4v1h-2v-2h-1v1h-3v-1h-3v-1h-4v-1h-4v-1h-1v1h-3v-1h-3v-2h-1v-2h-2v-1h-1v1h-1v1h-2v-2h-1v-1h-2v-1h-1v1h-3v-2h-1v-1h-4v1h-3v-2h-1v-1h-2v-1h-1v-1h-1v-1h-1v1h-7v-2h-2v-1h-1v-1h-2v1h-3v-4h-1v-1h-4v-3h-6v-1h-1v3h-2v-2h-1v-1h-2v-1h-1v1h-4v2h-3v-2h-3v-1h-1v-1h-5v1h-1v5h-3v-3h-1v-1h-3v2h-2v-2h-1v2h-1v1h-9v6h-3v-6h-1v1h-5v4h-3v-1h-3v-2h-2v6h-3v-4h-3v5h-3v-4h-4v1h-1v2h-3v-1h-2v2h-3v-2h-1v1h-2v-2h-3v1h-3v-1h-1v2h-2v-3h-4v2h-2v-1h-1v-2h-1v2h-2v-1h-1v-4h-2v-1h-6v-1h-2v-3h-6v2h-3v-2h-1v-4h-2v1h-4v-1h-3v-4h-3v-1h-2v-1h-1v-3h-2v1h-3v-1h-1v-1h-1v-1h-1v-2h-1v-1h-2v-2h-1v-1h-2v1h-3v-2h-1v-2h-3v-2h-1v-2h-3v-1h-2v-1h-3v-1h-4v-4h-1v-2h-1v1h-2v-5h-1v-1h-2v1h-2v-1h-2v-1h-1v-1h-1v-2h-2v-2h-2v2h-3v-2h-1v2h-2v-2h-2v-3h-2v1h-1v4h-3v-1h-1v-3h-2v2h-2v-2h-1v1h-3v-2h-1v2h-3v-1h-1v-2h-1v1h-1v1h-3v-1h-3v2h-3v3h-3v-3h-6v-2h-1v2h-1v2h-2v2h-3v-1h-1v-1h-1v4h-3v-2h-2v1h-3v-1h-1v1h-1v5h-3v-1h-1v-2h-1v4h-3v1h-3v1h-2v-2h-1v4h-3v-3h-2v3h-3v1h-1v4h-2v-3h-2v1h-1v1h-1v2h-4v-1h-1v2h-3v-2h-1v3h-2v-2h-1v2h-2v1h-2v1h-2v3h-3v-3h-1v1h-4v-1h-1v4h-3v-2h-4v-1h-2v2h-2v-2h-2v-1h-1v-1h-1v4h-3v-1h-2v-3h-1v2h-3v-1h-2v-4h-1v3h-10v-5h-1v1h-7v-1h-1v1h-1v1h-3v1h-3v-5h-1v1h-3v-3h-3v-2h-1v4h-3v-3h-4v-3h-1v-1h-3v-2h-1v3h-2v-2h-3v-3h-2v-2h-1v1h-2v-2h-1v3h-1v3h-3v-7h-2Z" fill="#ff00ff" shape-rendering="crispEdges"/>
<path d="M1379 221h2v8h1v1h1v5h1v5h1v4h1v4h1v5h2v4h1v5h2v2h1v3h1v4h2v6h1v2h1v3h1v7h2v4h1v3h1v1h1v1h1v2h1v4h1v2h1v2h1v4h3v6h1v1h1v2h2v3h1v3h2v3h2v2h1v3h1v4h4v1h2v2h2v1h1v4h1v2h5v5h1v2h3v2h2v1h1v-1h2v4h2v1h1v2h3v-1h4v5h1v1h6v3h1v1h2v-4h3v1h3v-4h2v3h2v-2h3v2h1v-2h1v-1h2v-3h2v3h3v-1h3v-1h2v-1h3v2h1v-3h2v-3h3v3h2v1h1v-1h2v-1h3v-1h1v-1h2v2h1v-1h3v-3h2v-2h5v2h1v-3h2v-1h3v-1h2v1h1v1h1v-4h2v1h4v-2h3v1h1v-4h3v5h1v-1h7v3h2v-2h2v1h2v3h2v-3h2v-1h2v7h2v-1h1v-2h3v4h1v1h4v1h5v-1h3v6h1v-2h6v3h3v-1h3v4h2v5h1v1h2v1h2v-5h3v8h1v4h2v2h1v1h2v2h1v3h3v4h2v3h2v2h1v2h1v3h1v1h2v2h1v2h4v5h2v-2h3v5h1v2h1v2h3v4h2v2h2v2h2v2h1v2h1v-1h3v2h1v-1h1v-4h5v9h1v-1h6v4h2v-1h3v4h1v-4h2v1h1v2h2v2h2v-3h3v2h1v-2h3v5h1v-1h3v4h4v-1h2v4h4v1h1v1h1v-4h3v4h2v-2h2v3h1v-3h1v-4h2v7h1v-1h2v1h2v-1h3v1h1v-1h1v-2h2v-1h4v1h2v2h1v1h1v-2h5v-3h6v2h1v-1h5v-2h3v2h2v-1h2v-1h9v-3h3v6h1v1h3v1h1v-3h1v-2h3v5h1v-1h3v1h4v3h4v3h2v-1h3v2h4v2h2v2h1v-1h2v-1h2v1h1v1h2v1h3v2h4v3h1v-1h4v-2h2v1h1v2h1v1h1v-1h3v2h1v-6h3v5h2v3h1v-2h3v1h4v1h1v2h5v1h1v-1h2v2h3v-2h2v4h1v-2h1v-6h3v5h1v-1h3v1h5v2h2v-1h3v5h1v-1h1v-3h3v1h2v2h1v1h1v-3h3v2h10v1h2v1h2v-1h7v2h1v-1h3v-1h2v1h1v1h4v1h1v-1h2v-3h2v4h2v-1h2v-2h2v2h3v2h2v-1h1v-1h3v1h4v1h2v-1h3v1h2v-1h3v1h5v2h1v-1h5v-2h5v3h1v-3h3v3h1v-1h5v-1h2v3h2v-1h1v-1h3v3h1v-1h1v-3h3v1h1v2h1v-3h1v-1h3v5h1v1h1v-1h3v-1h2v-3h3v3h2v-1h2v-2h3v2h7v1h2v1h1v-1h2v1h1v-2h1v-1h2v2h4v-2h3v2h2v2h1v-3h3v3h2v-4h3v1h1v1h2v1h2v-1h4v1h3v1h1v-2h4v3h1v-2h3v-2h3v-2h3v2h3v2h2v-1h2v-1h3v1h5v1h1v2h1v-1h4v-1h4v-4h3v5h1v-1h2v1h1v-1h2v2h1v-2h3v-1h5v2h1v-1h4v-2h3v1h1v2h1v-2h3v2h1v-2h5v1h5v5h-1v3h-2v-1h-4v-2h-1v1h-3v1h-2v-1h-5v2h-2v-2h-2v2h-3v-2h-4v1h-3v2h-3v-2h-2v-1h-5v2h-3v-1h-1v-2h-1v1h-3v2h-3v-2h-2v1h-5v-1h-3v-1h-3v1h-3v-1h-1v-1h-1v1h-3v1h-1v2h-3v-1h-2v1h-3v-1h-1v-1h-2v-1h-6v-1h-1v3h-3v-2h-3v1h-8v2h-2v-1h-1v1h-3v-5h-1v2h-3v1h-2v-1h-3v-1h-1v1h-7v-1h-5v-1h-1v-1h-2v3h-3v1h-3v-3h-1v1h-6v1h-2v-1h-1v1h-3v-1h-6v-1h-1v-2h-1v2h-3v1h-3v-2h-1v2h-2v-1h-1v-1h-1v2h-3v-1h-3v-2h-1v1h-1v2h-5v-3h-3v1h-2v-2h-1v1h-1v3h-3v-3h-2v1h-2v-2h-1v1h-2v-1h-1v-1h-1v2h-8v-2h-1v4h-2v-1h-2v-3h-3v1h-2v1h-3v-1h-1v3h-3v-5h-5v1h-2v1h-3v-2h-1v1h-3v-1h-5v1h-3v1h-5v-3h-1v1h-3v-2h-8v-1h-2v1h-3v-1h-3v-2h-3v1h-2v-2h-1v3h-2v-4h-1v1h-1v1h-3v-1h-2v-2h-4v2h-3v-4h-3v-2h-1v4h-3v-2h-1v-2h-2v2h-1v1h-3v-3h-2v-1h-2v-1h-2v1h-5v-2h-6v-2h-2v1h-1v1h-2v-4h-1v-2h-8v-2h-2v-2h-6v-2h-1v-1h-1v-1h-2v-2h-1v1h-1v2h-3v-2h-2v-1h-2v-1h-1v6h-3v-5h-4v-4h-2v2h-5v1h-2v-2h-1v1h-3v1h-3v-2h-1v3h-3v-2h-2v-1h-2v-1h-1v4h-2v-1h-1v2h-3v-2h-2v4h-4v-3h-5v2h-1v1h-3v-2h-2v1h-3v-1h-1v2h-3v-1h-1v1h-3v-3h-2v1h-7v-1h-1v-1h-3v-1h-3v-1h-1v1h-3v-3h-2v-1h-5v-1h-1v-1h-1v-2h-2v1h-4v-2h-4v-1h-2v4h-3v-6h-1v3h-2v-6h-1v1h-2v2h-3v-5h-1v3h-3v-1h-2v-5h-1v10h-2v-8h-1v-4h-1v2h-3v-8h-4v-1h-1v-1h-1v-4h-1v-3h-1v1h-3v-2h-1v-1h-1v-2h-1v-1h-2v-4h-1v-1h-1v-1h-3v-4h-2v-4h-2v-1h-2v-4h-2v-4h-4v-2h-1v-4h-2v-2h-1v-2h-2v-1h-3v-2h-3v-2h-2v-2h-3v-2h-2v2h-2v-3h-1v-1h-2v-1h-2v-3h-1v3h-2v-3h-2v-4h-1v4h-2v-3h-1v-1h-3v-2h-2v2h-3v-2h-3v-2h-1v2h-3v-1h-1v-2h-1v-1h-2v1h-3v-4h-2v4h-3v-2h-1v-1h-2v-3h-1v1h-1v3h-3v-1h-2v-2h-2v3h-2v1h-3v1h-3v-1h-2v4h-3v-2h-1v2h-1v5h-3v-3h-5v3h-6v1h-3v-1h-2v2h-3v-2h-7v4h-1v8h-3v-9h-2v3h-1v1h-3v-3h-1v4h-2v-1h-6v-1h-1v3h-3v1h-2v-1h-5v-1h-1v-1h-2v1h-3v-3h-3v-1h-1v3h-3v-5h-3v-3h-2v-1h-3v-4h-1v3h-3v-2h-1v-5h-4v-5h-3v-2h-2v-2h-1v3h-3v-8h-2v-3h-1v-2h-1v-2h-3v-4h-1v-3h-3v-2h-1v-5h-1v-4h-2v-1h-2v-6h-1v-1h-1v-3h-1v-1h-1v-4h-2v-4h-1v-1h-1v-2h-1v-3h-2v-5h-1v-5h-1v-2h-1v-6h-1v-2h-2v-4h-1v-5h-1v-1h-1v-3h-1v-2h-1v-5h-1v-5h-1v-3h-2v-6h-1v-4h-1v-5h-1Z" fill="#ff0000" shape-rendering="crispEdges"/>
<path d="M1379 453h2v1h2v6h1v2h1v1h4v4h3v2h1v1h4v2h2v3h1v-1h2v3h2v2h3v2h1v2h6v-1h2v1h1v5h2v-1h1v-7h2v9h1v2h2v3h1v-4h2v2h2v-1h1v-2h3v2h2v5h1v-2h3v-1h2v2h1v-2h1v-1h5v-1h2v1h2v-2h3v3h3v-1h2v-2h3v3h2v-3h3v-1h1v-2h2v-4h3v1h2v-1h8v-1h1v-4h2v-2h1v-1h3v2h3v-1h2v-2h1v-1h2v2h1v-5h1v-3h4v-1h1v-3h1v-2h1v-3h2v-1h1v-10h3v14h1v2h2v1h1v-3h2v3h2v-1h2v-3h2v2h1v-2h2v1h3v-1h2v3h1v-2h1v-1h1v-8h3v3h1v-2h2v4h2v-1h2v2h2v-1h4v-1h2v-1h1v-3h2v3h1v3h1v1h2v-1h2v-1h1v-2h2v4h1v-8h2v6h4v-1h3v1h3v3h2v2h3v-2h3v3h3v5h3v1h3v4h1v-18h3v18h1v4h2v5h1v-2h3v4h1v3h1v3h1v3h3v2h3v6h3v3h1v3h3v1h1v2h3v2h1v3h3v6h1v-3h2v4h3v1h1v1h1v3h2v1h3v3h2v4h3v2h3v1h2v2h2v1h1v1h1v2h1v1h2v2h3v2h1v1h1v1h1v-3h3v6h1v-1h2v1h5v2h3v2h1v-9h2v7h1v-3h2v4h1v1h1v-2h4v1h1v3h3v-1h7v2h2v-3h5v6h2v-2h2v-1h3v2h2v1h2v2h1v-2h3v1h1v-2h4v-2h3v-1h3v4h1v-1h2v-2h4v-2h2v3h1v-3h3v-1h2v3h3v-1h2v-2h3v2h3v1h2v-1h1v-1h2v2h2v1h2v-1h5v1h3v1h4v2h2v1h1v2h1v-1h2v3h3v1h1v1h1v1h1v1h3v2h1v1h3v1h1v1h5v3h1v-2h2v2h1v1h1v-3h3v1h1v4h4v-1h1v-4h3v7h2v1h2v1h1v-2h3v3h1v-1h2v1h1v3h1v-3h3v-2h4v4h3v-1h3v2h1v1h4v-1h2v-1h2v2h3v1h2v3h3v-1h1v-2h3v-1h2v5h1v-1h3v1h2v1h8v2h2v-1h2v-2h3v5h4v-1h1v-1h2v1h3v1h2v-2h3v2h1v1h1v-1h1v-2h3v3h5v1h4v1h11v-2h2v1h3v2h3v1h1v-1h4v1h1v1h2v-2h2v-2h2v3h3v1h2v1h2v-3h3v1h3v-1h3v-6h2v7h3v1h5v1h1v-1h9v1h2v-2h2v1h2v-2h2v3h3v-1h3v2h1v-1h1v-2h2v1h4v4h1v-2h1v-4h3v5h1v-1h3v1h3v1h1v-1h3v-1h1v-1h3v2h2v-1h2v-2h2v3h4v-1h2v1h3v1h1v-1h3v-1h3v1h1v-2h2v3h2v-2h3v2h2v-1h1v-1h1v-2h3v3h1v1h1v-2h7v-1h2v3h3v-2h2v-1h2v1h1v-1h2v1h2v1h1v-2h4v1h4v-3h3v1h1v1h1v3h2v-1h3v1h2v-3h3v1h1v2h1v-3h8v2h1v-1h1v-1h6v-1h3v2h1v-2h4v9h-3v-1h-3v1h-3v-1h-4v-1h-3v-1h-1v4h-3v-3h-2v1h-3v2h-3v-1h-5v-2h-1v3h-2v-1h-2v2h-4v-1h-2v-3h-2v1h-7v-1h-1v1h-1v2h-3v-1h-1v1h-2v-2h-1v2h-3v-2h-4v6h-3v-4h-2v-2h-1v-1h-1v4h-3v-2h-1v-1h-1v2h-2v-1h-4v1h-2v-3h-1v1h-1v1h-2v-2h-4v2h-3v-1h-4v-1h-1v1h-2v2h-4v-2h-1v2h-2v1h-2v-2h-6v-1h-1v1h-4v-1h-4v-2h-1v3h-5v-2h-2v1h-5v-1h-1v2h-3v-2h-4v-2h-3v1h-2v1h-5v2h-2v-3h-1v2h-3v-4h-1v4h-2v-3h-2v1h-10v-1h-1v3h-3v-1h-2v-3h-1v1h-3v-1h-1v-1h-6v1h-2v1h-3v-3h-2v1h-2v-2h-3v1h-2v2h-3v-1h-1v-1h-1v1h-3v-1h-3v-1h-2v3h-3v-2h-4v-1h-5v-1h-1v-2h-1v3h-3v-1h-3v-1h-1v2h-2v-5h-1v1h-3v1h-2v-1h-1v2h-2v1h-3v-5h-1v3h-3v-3h-1v2h-3v-3h-2v1h-2v-1h-3v6h-2v-3h-1v-5h-1v-1h-1v1h-3v1h-3v-2h-5v-1h-1v-3h-2v2h-3v-2h-1v1h-3v-1h-5v-1h-3v-1h-1v-1h-1v1h-3v-2h-1v1h-3v-1h-1v-1h-1v2h-3v3h-2v-7h-2v-1h-1v-2h-1v1h-2v-2h-5v-1h-2v-2h-1v1h-1v1h-2v-1h-1v-2h-5v-2h-1v-1h-4v-4h-5v-2h-1v4h-3v-5h-1v-1h-1v-2h-1v1h-3v1h-3v-1h-3v-3h-1v1h-3v-2h-1v4h-3v-3h-1v1h-3v-3h-1v1h-2v1h-3v4h-2v-1h-3v-1h-1v4h-3v-3h-1v2h-2v-3h-3v1h-1v1h-6v2h-3v-1h-3v3h-2v-5h-1v1h-3v-1h-2v4h-3v-4h-3v-1h-4v-2h-1v3h-3v-1h-2v-1h-1v4h-2v-7h-1v3h-2v-5h-1v-1h-2v6h-3v-6h-1v2h-3v-1h-3v-1h-3v-1h-2v-1h-1v1h-2v-1h-1v-1h-2v-1h-3v-2h-2v-1h-2v-1h-4v-1h-1v-3h-2v-2h-3v-2h-2v-2h-6v-4h-2v-5h-3v8h-3v-13h-3v-3h-3v-4h-2v-3h-2v-3h-4v-2h-2v-2h-1v1h-3v-8h-1v2h-2v-5h-1v-2h-2v-1h-1v-2h-2v-4h-2v-5h-2v-1h-1v-2h-1v-3h-2v-3h-5v-2h-2v-2h-1v-3h-2v-1h-3v-1h-2v-3h-1v-1h-3v-1h-2v-1h-1v-1h-1v1h-2v-1h-2v-1h-4v1h-6v1h-2v-2h-1v-1h-2v5h-3v-5h-1v5h-1v1h-3v-6h-1v4h-3v-1h-1v1h-3v4h-3v-5h-1v3h-2v1h-5v2h-2v-1h-2v-1h-1v-1h-2v1h-2v1h-2v-1h-4v1h-3v-4h-1v2h-2v-1h-1v4h-1v7h-3v-4h-1v3h-2v2h-1v4h-5v1h-4v1h-1v1h-1v6h-2v-5h-3v6h-2v-4h-1v1h-1v3h-4v-1h-2v1h-1v3h-4v2h-3v6h-3v-6h-2v3h-1v1h-2v-1h-2v-1h-1v-1h-4v2h-3v1h-3v-2h-3v1h-1v2h-3v-1h-2v-3h-1v7h-3v-7h-2v-1h-1v5h-3v-1h-1v-3h-4v-2h-4v-1h-1v-1h-6v-4h-1v1h-2v-2h-1v-1h-1v-1h-3v-3h-1v-2h-2v1h-2v-2h-1v-2h-1v-1h-2v1h-2v-1h-2v-4h-2v-2h-2v-2h-4v-4h-3v-1h-1Z" fill="#000" shape-rendering="crispEdges"/>
<text x="1431.5" y="703.3" font-size="39" text-anchor="middle" fill="#000">10</text>
<text x="1533.7" y="703.3" font-size="39" text-anchor="middle" fill="#000">20</text>
<text x="1635.9" y="703.3" font-size="39" text-anchor="middle" fill="#000">30</text>
<text x="1738.1" y="703.3" font-size="39" text-anchor="middle" fill="#000">40</text>
<text x="1840.3" y="703.3" font-size="39" text-anchor="middle" fill="#000">50</text>
<text x="1942.5" y="703.3" font-size="39" text-anchor="middle" fill="#000">60</text>
<text x="2044.7" y="703.3" font-size="39" text-anchor="middle" fill="#000">70</text>
<text x="2146.9" y="703.3" font-size="39" text-anchor="middle" fill="#000">80</text>
<text transform="translate(1974.6 317.2) scale(1 1.03)" font-size="66" fill="#ff00ff">ACcc</text>
<text transform="translate(1974.6 466.8) scale(1 1.015)" font-size="66" fill="#ff0000">ACav</text>
<text transform="translate(1979 591.2) scale(1 1.03)" font-size="66" fill="#000">ACsc</text>
</svg></body></html>
